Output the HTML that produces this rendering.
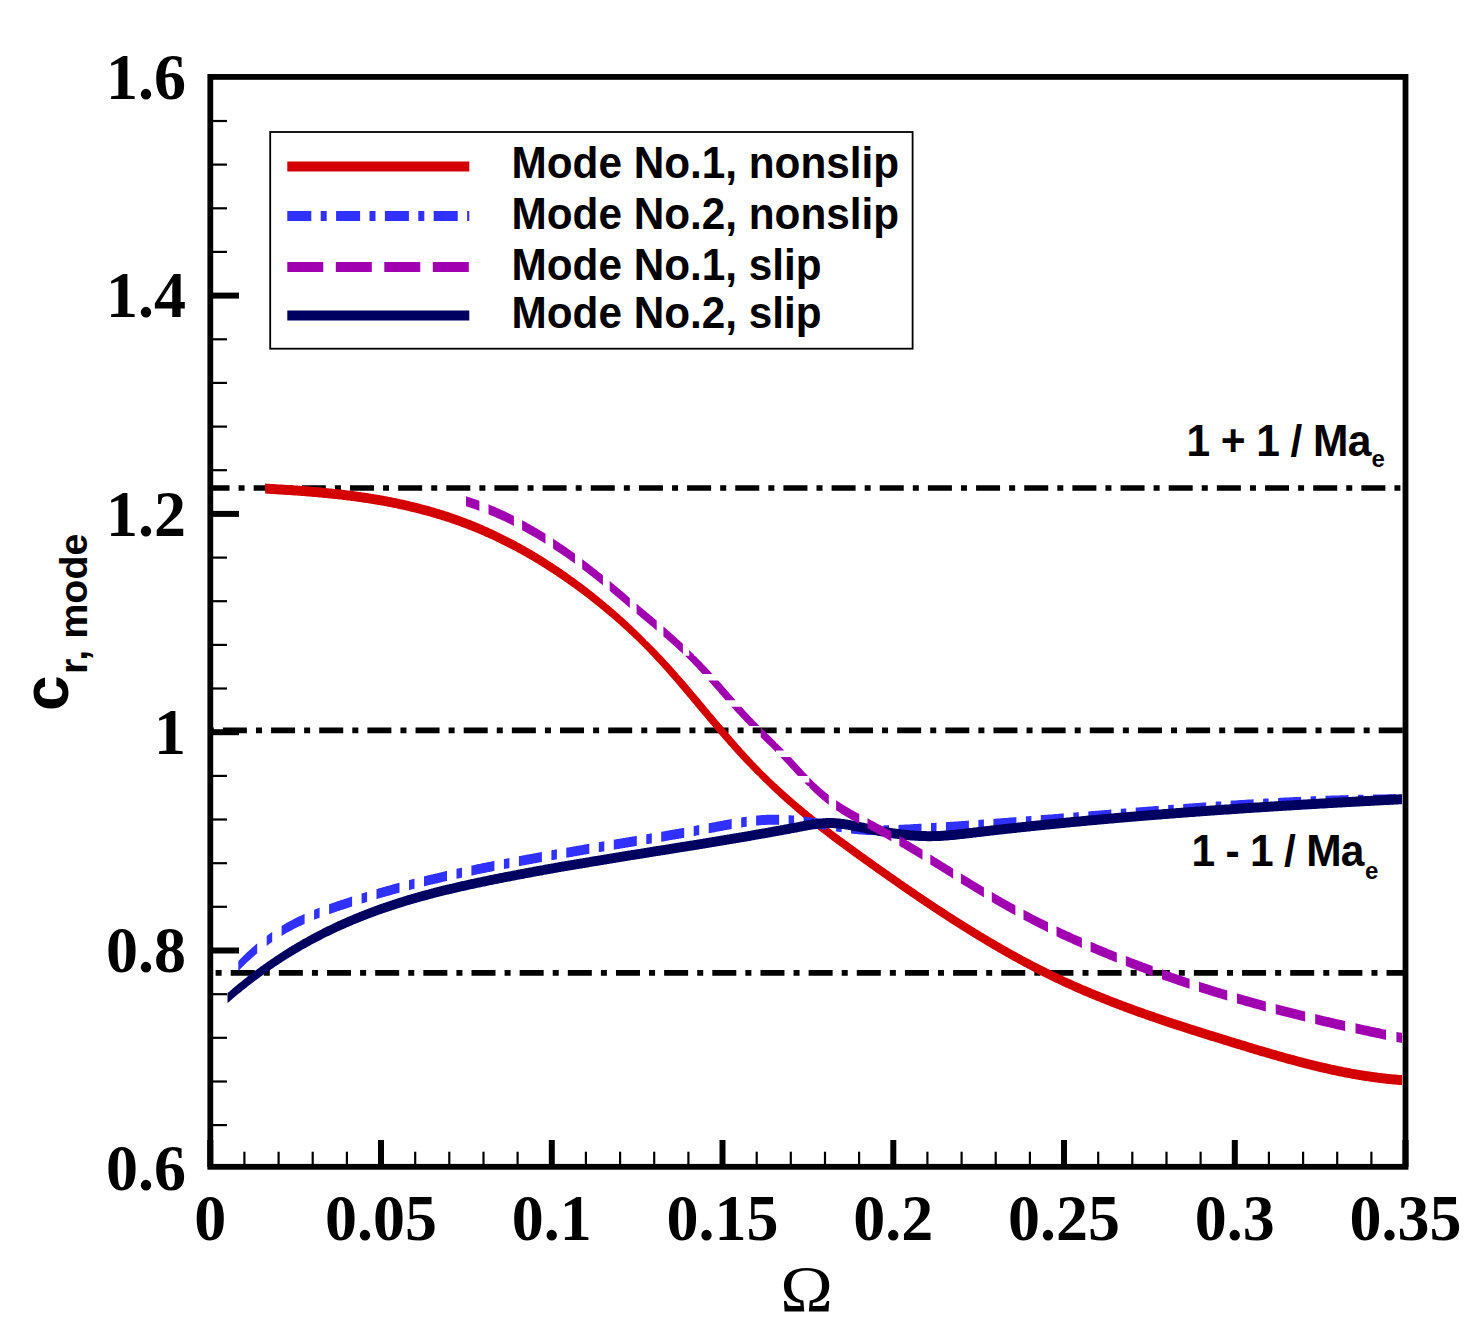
<!DOCTYPE html>
<html><head><meta charset="utf-8"><style>
html,body{margin:0;padding:0;background:#fff;width:1484px;height:1339px;overflow:hidden}
svg{display:block;position:absolute;left:0;top:0}
</style></head><body>
<svg width="1484" height="1339" viewBox="0 0 1484 1339">
<rect width="1484" height="1339" fill="#fff"/>
<defs><clipPath id="pc"><rect x="210.3" y="77.2" width="1195.2" height="1089.8"/></clipPath></defs>
<g clip-path="url(#pc)" fill="none" stroke-linecap="butt" stroke-linejoin="round">
<line x1="-83.46" y1="488.0" x2="1465.5" y2="488.0" stroke="#000" stroke-width="5.7" stroke-dasharray="24 9.08 6 9.08"/>
<line x1="-66.06" y1="730.3" x2="1465.5" y2="730.3" stroke="#000" stroke-width="5.7" stroke-dasharray="24 9.08 6 9.08"/>
<line x1="-58.26" y1="972.8" x2="1465.5" y2="972.8" stroke="#000" stroke-width="5.7" stroke-dasharray="24 9.08 6 9.08"/>
<path d="M265.1,483.6 266.1,483.6 267.1,483.7 268.1,483.8 269.1,483.8 270.1,483.9 271.1,483.9 272.1,484.0 273.1,484.1 274.1,484.1 275.1,484.2 276.1,484.2 277.1,484.3 278.1,484.4 279.1,484.4 280.1,484.5 281.1,484.5 282.1,484.6 283.1,484.7 284.1,484.7 285.1,484.8 286.1,484.9 287.1,484.9 288.1,485.0 289.1,485.1 290.1,485.1 291.1,485.2 292.1,485.3 293.1,485.3 294.1,485.4 295.1,485.5 296.1,485.6 297.1,485.6 298.1,485.7 299.1,485.8 300.1,485.8 301.1,485.9 302.1,486.0 303.1,486.1 304.1,486.1 305.1,486.2 306.1,486.3 307.1,486.4 308.1,486.5 309.1,486.5 310.1,486.6 311.1,486.7 312.1,486.8 313.1,486.9 314.1,487.0 315.1,487.0 316.1,487.1 317.1,487.2 318.1,487.3 319.1,487.4 320.1,487.5 321.1,487.6 322.1,487.7 323.1,487.8 324.1,487.9 325.1,488.0 326.1,488.1 327.1,488.2 328.1,488.3 329.2,488.4 330.2,488.5 331.2,488.6 332.2,488.7 333.2,488.8 334.2,488.9 335.2,489.0 336.2,489.1 337.2,489.2 338.2,489.3 339.2,489.4 340.2,489.5 341.2,489.6 342.2,489.8 343.2,489.9 344.2,490.0 345.2,490.1 346.2,490.2 347.2,490.4 348.2,490.5 349.2,490.6 350.2,490.7 351.2,490.9 352.2,491.0 353.2,491.1 354.2,491.3 355.2,491.4 356.2,491.5 357.2,491.7 358.2,491.8 359.2,491.9 360.2,492.1 361.2,492.2 362.2,492.4 363.2,492.5 364.2,492.7 365.2,492.8 366.2,493.0 367.2,493.1 368.2,493.3 369.2,493.4 370.2,493.6 371.2,493.7 372.2,493.9 373.2,494.1 374.2,494.2 375.2,494.4 376.2,494.6 377.2,494.7 378.2,494.9 379.2,495.1 380.2,495.3 381.2,495.4 382.2,495.6 383.2,495.8 384.2,496.0 385.2,496.2 386.2,496.3 387.2,496.5 388.2,496.7 389.2,496.9 390.2,497.1 391.2,497.3 392.2,497.5 393.2,497.7 394.2,497.9 395.2,498.1 396.2,498.3 397.2,498.5 398.2,498.7 399.2,498.9 400.2,499.2 401.2,499.4 402.2,499.6 403.2,499.8 404.2,500.0 405.2,500.3 406.2,500.5 407.2,500.7 408.2,500.9 409.2,501.2 410.2,501.4 411.2,501.7 412.2,501.9 413.2,502.1 414.2,502.4 415.2,502.6 416.2,502.9 417.2,503.1 418.2,503.4 419.2,503.6 420.2,503.9 421.2,504.2 422.2,504.4 423.2,504.7 424.2,505.0 425.2,505.2 426.2,505.5 427.2,505.8 428.2,506.1 429.2,506.3 430.2,506.6 431.2,506.9 432.2,507.2 433.2,507.5 434.2,507.8 435.2,508.1 436.2,508.4 437.2,508.7 438.2,509.0 439.2,509.3 440.2,509.6 441.2,509.9 442.2,510.2 443.2,510.5 444.2,510.8 445.2,511.2 446.2,511.5 447.2,511.8 448.2,512.1 449.2,512.5 450.2,512.8 451.2,513.2 452.2,513.5 453.2,513.8 454.2,514.2 455.3,514.5 456.3,514.9 457.3,515.2 458.3,515.6 459.3,516.0 460.3,516.3 461.3,516.7 462.3,517.1 463.3,517.4 464.3,517.8 465.3,518.2 466.3,518.6 467.3,519.0 468.3,519.4 469.3,519.7 470.3,520.1 471.3,520.5 472.3,520.9 473.3,521.3 474.3,521.7 475.3,522.2 476.3,522.6 477.3,523.0 478.3,523.4 479.3,523.8 480.3,524.2 481.3,524.7 482.3,525.1 483.3,525.5 484.3,526.0 485.3,526.4 486.3,526.9 487.3,527.3 488.3,527.8 489.3,528.2 490.3,528.7 491.3,529.1 492.3,529.6 493.3,530.0 494.3,530.5 495.3,531.0 496.3,531.5 497.3,531.9 498.3,532.4 499.3,532.9 500.3,533.4 501.3,533.9 502.3,534.4 503.3,534.9 504.3,535.4 505.3,535.9 506.3,536.4 507.3,536.9 508.3,537.4 509.3,537.9 510.3,538.4 511.3,539.0 512.3,539.5 513.3,540.0 514.3,540.5 515.3,541.1 516.3,541.6 517.3,542.2 518.3,542.7 519.3,543.2 520.3,543.8 521.3,544.3 522.3,544.9 523.3,545.5 524.3,546.0 525.3,546.6 526.3,547.2 527.3,547.7 528.3,548.3 529.3,548.9 530.3,549.5 531.3,550.1 532.3,550.6 533.3,551.2 534.3,551.8 535.3,552.4 536.3,553.0 537.3,553.6 538.3,554.3 539.3,554.9 540.3,555.5 541.3,556.1 542.3,556.7 543.3,557.3 544.3,558.0 545.3,558.6 546.3,559.2 547.3,559.9 548.3,560.5 549.3,561.2 550.3,561.8 551.3,562.5 552.3,563.1 553.3,563.8 554.3,564.4 555.3,565.1 556.3,565.8 557.3,566.4 558.3,567.1 559.3,567.8 560.3,568.5 561.3,569.1 562.3,569.8 563.3,570.5 564.3,571.2 565.3,571.9 566.3,572.6 567.3,573.3 568.3,574.0 569.3,574.7 570.3,575.4 571.3,576.2 572.3,576.9 573.3,577.6 574.3,578.3 575.3,579.1 576.3,579.8 577.3,580.5 578.3,581.3 579.3,582.0 580.3,582.8 581.4,583.5 582.4,584.3 583.4,585.0 584.4,585.8 585.4,586.5 586.4,587.3 587.4,588.1 588.4,588.9 589.4,589.6 590.4,590.4 591.4,591.2 592.4,592.0 593.4,592.8 594.4,593.6 595.4,594.4 596.4,595.2 597.4,596.0 598.4,596.8 599.4,597.6 600.4,598.4 601.4,599.2 602.4,600.0 603.4,600.9 604.4,601.7 605.4,602.5 606.4,603.4 607.4,604.2 608.4,605.1 609.4,605.9 610.4,606.8 611.4,607.6 612.4,608.5 613.4,609.3 614.4,610.2 615.4,611.1 616.4,611.9 617.4,612.8 618.4,613.7 619.4,614.6 620.4,615.5 621.4,616.4 622.4,617.3 623.4,618.2 624.4,619.1 625.4,620.0 626.4,620.9 627.4,621.8 628.4,622.8 629.4,623.7 630.4,624.6 631.4,625.6 632.4,626.5 633.4,627.4 634.4,628.4 635.4,629.3 636.4,630.3 637.4,631.3 638.4,632.2 639.4,633.2 640.4,634.2 641.4,635.2 642.4,636.2 643.4,637.2 644.4,638.2 645.4,639.2 646.4,640.2 646.4,650.2 645.4,649.2 644.4,648.2 643.4,647.2 642.4,646.2 641.4,645.2 640.4,644.2 639.4,643.2 638.4,642.2 637.4,641.3 636.4,640.3 635.4,639.3 634.4,638.4 633.4,637.4 632.4,636.5 631.4,635.6 630.4,634.6 629.4,633.7 628.4,632.8 627.4,631.8 626.4,630.9 625.4,630.0 624.4,629.1 623.4,628.2 622.4,627.3 621.4,626.4 620.4,625.5 619.4,624.6 618.4,623.7 617.4,622.8 616.4,621.9 615.4,621.1 614.4,620.2 613.4,619.3 612.4,618.5 611.4,617.6 610.4,616.8 609.4,615.9 608.4,615.1 607.4,614.2 606.4,613.4 605.4,612.5 604.4,611.7 603.4,610.9 602.4,610.0 601.4,609.2 600.4,608.4 599.4,607.6 598.4,606.8 597.4,606.0 596.4,605.2 595.4,604.4 594.4,603.6 593.4,602.8 592.4,602.0 591.4,601.2 590.4,600.4 589.4,599.6 588.4,598.9 587.4,598.1 586.4,597.3 585.4,596.5 584.4,595.8 583.4,595.0 582.4,594.3 581.4,593.5 580.3,592.8 579.3,592.0 578.3,591.3 577.3,590.5 576.3,589.8 575.3,589.1 574.3,588.3 573.3,587.6 572.3,586.9 571.3,586.2 570.3,585.4 569.3,584.7 568.3,584.0 567.3,583.3 566.3,582.6 565.3,581.9 564.3,581.2 563.3,580.5 562.3,579.8 561.3,579.1 560.3,578.5 559.3,577.8 558.3,577.1 557.3,576.4 556.3,575.8 555.3,575.1 554.3,574.4 553.3,573.8 552.3,573.1 551.3,572.5 550.3,571.8 549.3,571.2 548.3,570.5 547.3,569.9 546.3,569.2 545.3,568.6 544.3,568.0 543.3,567.3 542.3,566.7 541.3,566.1 540.3,565.5 539.3,564.9 538.3,564.3 537.3,563.6 536.3,563.0 535.3,562.4 534.3,561.8 533.3,561.2 532.3,560.6 531.3,560.1 530.3,559.5 529.3,558.9 528.3,558.3 527.3,557.7 526.3,557.2 525.3,556.6 524.3,556.0 523.3,555.5 522.3,554.9 521.3,554.3 520.3,553.8 519.3,553.2 518.3,552.7 517.3,552.2 516.3,551.6 515.3,551.1 514.3,550.5 513.3,550.0 512.3,549.5 511.3,549.0 510.3,548.4 509.3,547.9 508.3,547.4 507.3,546.9 506.3,546.4 505.3,545.9 504.3,545.4 503.3,544.9 502.3,544.4 501.3,543.9 500.3,543.4 499.3,542.9 498.3,542.4 497.3,541.9 496.3,541.5 495.3,541.0 494.3,540.5 493.3,540.0 492.3,539.6 491.3,539.1 490.3,538.7 489.3,538.2 488.3,537.8 487.3,537.3 486.3,536.9 485.3,536.4 484.3,536.0 483.3,535.5 482.3,535.1 481.3,534.7 480.3,534.2 479.3,533.8 478.3,533.4 477.3,533.0 476.3,532.6 475.3,532.2 474.3,531.7 473.3,531.3 472.3,530.9 471.3,530.5 470.3,530.1 469.3,529.7 468.3,529.4 467.3,529.0 466.3,528.6 465.3,528.2 464.3,527.8 463.3,527.4 462.3,527.1 461.3,526.7 460.3,526.3 459.3,526.0 458.3,525.6 457.3,525.2 456.3,524.9 455.3,524.5 454.2,524.2 453.2,523.8 452.2,523.5 451.2,523.2 450.2,522.8 449.2,522.5 448.2,522.1 447.2,521.8 446.2,521.5 445.2,521.2 444.2,520.8 443.2,520.5 442.2,520.2 441.2,519.9 440.2,519.6 439.2,519.3 438.2,519.0 437.2,518.7 436.2,518.4 435.2,518.1 434.2,517.8 433.2,517.5 432.2,517.2 431.2,516.9 430.2,516.6 429.2,516.3 428.2,516.1 427.2,515.8 426.2,515.5 425.2,515.2 424.2,515.0 423.2,514.7 422.2,514.4 421.2,514.2 420.2,513.9 419.2,513.6 418.2,513.4 417.2,513.1 416.2,512.9 415.2,512.6 414.2,512.4 413.2,512.1 412.2,511.9 411.2,511.7 410.2,511.4 409.2,511.2 408.2,510.9 407.2,510.7 406.2,510.5 405.2,510.3 404.2,510.0 403.2,509.8 402.2,509.6 401.2,509.4 400.2,509.2 399.2,508.9 398.2,508.7 397.2,508.5 396.2,508.3 395.2,508.1 394.2,507.9 393.2,507.7 392.2,507.5 391.2,507.3 390.2,507.1 389.2,506.9 388.2,506.7 387.2,506.5 386.2,506.3 385.2,506.2 384.2,506.0 383.2,505.8 382.2,505.6 381.2,505.4 380.2,505.3 379.2,505.1 378.2,504.9 377.2,504.7 376.2,504.6 375.2,504.4 374.2,504.2 373.2,504.1 372.2,503.9 371.2,503.7 370.2,503.6 369.2,503.4 368.2,503.3 367.2,503.1 366.2,503.0 365.2,502.8 364.2,502.7 363.2,502.5 362.2,502.4 361.2,502.2 360.2,502.1 359.2,501.9 358.2,501.8 357.2,501.7 356.2,501.5 355.2,501.4 354.2,501.3 353.2,501.1 352.2,501.0 351.2,500.9 350.2,500.7 349.2,500.6 348.2,500.5 347.2,500.4 346.2,500.2 345.2,500.1 344.2,500.0 343.2,499.9 342.2,499.8 341.2,499.6 340.2,499.5 339.2,499.4 338.2,499.3 337.2,499.2 336.2,499.1 335.2,499.0 334.2,498.9 333.2,498.8 332.2,498.7 331.2,498.6 330.2,498.5 329.2,498.4 328.1,498.3 327.1,498.2 326.1,498.1 325.1,498.0 324.1,497.9 323.1,497.8 322.1,497.7 321.1,497.6 320.1,497.5 319.1,497.4 318.1,497.3 317.1,497.2 316.1,497.1 315.1,497.0 314.1,497.0 313.1,496.9 312.1,496.8 311.1,496.7 310.1,496.6 309.1,496.5 308.1,496.5 307.1,496.4 306.1,496.3 305.1,496.2 304.1,496.1 303.1,496.1 302.1,496.0 301.1,495.9 300.1,495.8 299.1,495.8 298.1,495.7 297.1,495.6 296.1,495.6 295.1,495.5 294.1,495.4 293.1,495.3 292.1,495.3 291.1,495.2 290.1,495.1 289.1,495.1 288.1,495.0 287.1,494.9 286.1,494.9 285.1,494.8 284.1,494.7 283.1,494.7 282.1,494.6 281.1,494.5 280.1,494.5 279.1,494.4 278.1,494.4 277.1,494.3 276.1,494.2 275.1,494.2 274.1,494.1 273.1,494.1 272.1,494.0 271.1,493.9 270.1,493.9 269.1,493.8 268.1,493.8 267.1,493.7 266.1,493.6 265.1,493.6ZM647.4,641.2 648.4,642.2 649.4,643.2 650.4,644.2 651.4,645.2 652.4,646.2 653.4,647.2 654.4,648.2 655.4,649.2 656.4,650.3 657.4,651.3 658.4,652.3 659.4,653.4 660.4,654.4 661.4,655.5 662.4,656.6 663.4,657.6 664.4,658.7 665.4,659.8 666.4,660.9 667.4,661.9 668.4,663.0 669.4,664.1 670.4,665.2 671.4,666.3 672.4,667.5 673.4,668.6 674.4,669.7 675.4,670.8 676.4,671.9 677.4,673.1 678.4,674.2 679.4,675.4 680.4,676.5 681.4,677.7 682.4,678.8 683.4,680.0 684.4,681.1 685.4,682.3 686.4,683.5 687.4,684.6 688.4,685.8 689.4,687.0 690.4,688.2 691.4,689.3 692.4,690.5 693.4,691.7 694.4,692.9 695.4,694.1 696.4,695.3 697.4,696.4 698.4,697.6 699.4,698.8 700.4,700.0 701.4,701.2 702.4,702.4 703.4,703.6 704.4,704.8 705.4,706.0 706.4,707.2 707.4,708.4 708.4,709.6 709.4,710.8 710.4,712.0 711.4,713.2 712.5,714.4 713.5,715.6 714.5,716.8 715.5,718.0 716.5,719.2 717.5,720.4 718.5,721.5 719.5,722.7 720.5,723.9 721.5,725.1 722.5,726.3 723.5,727.5 724.5,728.7 725.5,729.8 726.5,731.0 727.5,732.2 728.5,733.4 729.5,734.5 730.5,735.7 731.5,736.8 732.5,738.0 733.5,739.2 734.5,740.3 735.5,741.5 736.5,742.6 737.5,743.7 738.5,744.9 739.5,746.0 740.5,747.1 741.5,748.3 742.5,749.4 743.5,750.5 744.5,751.6 745.5,752.7 746.5,753.8 747.5,754.9 748.5,756.0 749.5,757.1 750.5,758.2 751.5,759.2 752.5,760.3 753.5,761.4 754.5,762.4 755.5,763.5 756.5,764.5 757.5,765.6 758.5,766.6 759.5,767.6 760.5,768.7 761.5,769.7 762.5,770.7 763.5,771.7 764.5,772.7 765.5,773.7 766.5,774.7 767.5,775.7 757.5,775.7 756.5,774.7 755.5,773.7 754.5,772.7 753.5,771.7 752.5,770.7 751.5,769.7 750.5,768.7 749.5,767.6 748.5,766.6 747.5,765.6 746.5,764.5 745.5,763.5 744.5,762.4 743.5,761.4 742.5,760.3 741.5,759.2 740.5,758.2 739.5,757.1 738.5,756.0 737.5,754.9 736.5,753.8 735.5,752.7 734.5,751.6 733.5,750.5 732.5,749.4 731.5,748.3 730.5,747.1 729.5,746.0 728.5,744.9 727.5,743.7 726.5,742.6 725.5,741.5 724.5,740.3 723.5,739.2 722.5,738.0 721.5,736.8 720.5,735.7 719.5,734.5 718.5,733.4 717.5,732.2 716.5,731.0 715.5,729.8 714.5,728.7 713.5,727.5 712.5,726.3 711.5,725.1 710.5,723.9 709.5,722.7 708.5,721.5 707.5,720.4 706.5,719.2 705.5,718.0 704.5,716.8 703.5,715.6 702.5,714.4 701.4,713.2 700.4,712.0 699.4,710.8 698.4,709.6 697.4,708.4 696.4,707.2 695.4,706.0 694.4,704.8 693.4,703.6 692.4,702.4 691.4,701.2 690.4,700.0 689.4,698.8 688.4,697.6 687.4,696.4 686.4,695.3 685.4,694.1 684.4,692.9 683.4,691.7 682.4,690.5 681.4,689.3 680.4,688.2 679.4,687.0 678.4,685.8 677.4,684.6 676.4,683.5 675.4,682.3 674.4,681.1 673.4,680.0 672.4,678.8 671.4,677.7 670.4,676.5 669.4,675.4 668.4,674.2 667.4,673.1 666.4,671.9 665.4,670.8 664.4,669.7 663.4,668.6 662.4,667.5 661.4,666.3 660.4,665.2 659.4,664.1 658.4,663.0 657.4,661.9 656.4,660.9 655.4,659.8 654.4,658.7 653.4,657.6 652.4,656.6 651.4,655.5 650.4,654.4 649.4,653.4 648.4,652.3 647.4,651.3 646.4,650.3 645.4,649.2 644.4,648.2 643.4,647.2 642.4,646.2 641.4,645.2 640.4,644.2 639.4,643.2 638.4,642.2 637.4,641.2ZM758.5,766.7 759.5,767.7 760.5,768.7 761.5,769.7 762.5,770.7 763.5,771.7 764.5,772.7 765.5,773.6 766.5,774.6 767.5,775.6 768.5,776.6 769.5,777.5 770.5,778.5 771.5,779.4 772.5,780.4 773.5,781.3 774.5,782.2 775.5,783.2 776.5,784.1 777.5,785.0 778.5,786.0 779.5,786.9 780.5,787.8 781.5,788.7 782.5,789.6 783.5,790.5 784.5,791.4 785.5,792.3 786.5,793.2 787.5,794.1 788.5,794.9 789.5,795.8 790.5,796.7 791.5,797.6 792.5,798.4 793.5,799.3 794.5,800.2 795.5,801.0 796.5,801.9 797.5,802.7 798.5,803.6 799.5,804.4 800.5,805.3 801.5,806.1 802.5,806.9 803.5,807.8 804.5,808.6 805.5,809.4 806.5,810.2 807.5,811.0 808.5,811.9 809.5,812.7 810.5,813.5 811.5,814.3 812.5,815.1 813.5,815.9 814.5,816.7 815.5,817.5 816.5,818.3 817.5,819.1 818.5,819.9 819.5,820.7 820.5,821.4 821.5,822.2 822.5,823.0 823.5,823.8 824.5,824.5 825.5,825.3 826.5,826.1 827.5,826.9 828.5,827.6 829.5,828.4 830.5,829.1 831.5,829.9 832.5,830.7 833.6,831.4 834.6,832.2 835.6,832.9 836.6,833.7 837.6,834.4 838.6,835.2 839.6,835.9 840.6,836.7 841.6,837.4 842.6,838.1 843.6,838.9 844.6,839.6 845.6,840.4 846.6,841.1 847.6,841.8 848.6,842.6 849.6,843.3 850.6,844.0 851.6,844.7 852.6,845.5 853.6,846.2 854.6,846.9 855.6,847.6 856.6,848.4 857.6,849.1 858.6,849.8 859.6,850.5 860.6,851.2 861.6,852.0 862.6,852.7 863.6,853.4 864.6,854.1 865.6,854.8 866.6,855.5 867.6,856.3 868.6,857.0 869.6,857.7 870.6,858.4 871.6,859.1 872.6,859.8 873.6,860.5 874.6,861.2 875.6,862.0 876.6,862.7 877.6,863.4 878.6,864.1 879.6,864.8 880.6,865.5 881.6,866.2 882.6,866.9 883.6,867.6 884.6,868.3 885.6,869.0 886.6,869.7 887.6,870.4 888.6,871.1 889.6,871.8 890.6,872.5 891.6,873.2 892.6,873.9 893.6,874.6 894.6,875.3 895.6,876.0 896.6,876.7 897.6,877.4 898.6,878.1 899.6,878.8 900.6,879.5 901.6,880.2 902.6,880.9 903.6,881.6 904.6,882.3 905.6,883.0 906.6,883.7 907.6,884.3 908.6,885.0 909.6,885.7 910.6,886.4 911.6,887.1 912.6,887.8 913.6,888.5 914.6,889.1 915.6,889.8 916.6,890.5 917.6,891.2 918.6,891.9 919.6,892.5 920.6,893.2 921.6,893.9 922.6,894.6 923.6,895.2 924.6,895.9 925.6,896.6 926.6,897.2 927.6,897.9 928.6,898.6 929.6,899.3 930.6,899.9 931.6,900.6 932.6,901.3 933.6,901.9 934.6,902.6 935.6,903.2 936.6,903.9 937.6,904.6 938.6,905.2 939.6,905.9 940.6,906.5 941.6,907.2 942.6,907.8 943.6,908.5 944.6,909.1 945.6,909.8 946.6,910.4 947.6,911.1 948.6,911.7 949.6,912.4 950.6,913.0 951.6,913.7 952.6,914.3 953.6,915.0 954.6,915.6 955.6,916.2 956.6,916.9 957.6,917.5 958.6,918.1 959.6,918.8 960.7,919.4 961.7,920.0 962.7,920.7 963.7,921.3 964.7,921.9 965.7,922.6 966.7,923.2 967.7,923.8 968.7,924.4 969.7,925.1 970.7,925.7 971.7,926.3 972.7,926.9 973.7,927.5 974.7,928.1 975.7,928.8 976.7,929.4 977.7,930.0 978.7,930.6 979.7,931.2 980.7,931.8 981.7,932.4 982.7,933.0 983.7,933.6 984.7,934.2 985.7,934.8 986.7,935.4 987.7,936.0 988.7,936.6 989.7,937.2 990.7,937.8 991.7,938.4 992.7,939.0 993.7,939.6 994.7,940.1 995.7,940.7 996.7,941.3 997.7,941.9 998.7,942.5 999.7,943.0 1000.7,943.6 1001.7,944.2 1002.7,944.8 1003.7,945.3 1004.7,945.9 1005.7,946.5 1006.7,947.0 1007.7,947.6 1008.7,948.2 1009.7,948.7 1010.7,949.3 1011.7,949.9 1012.7,950.4 1013.7,951.0 1014.7,951.5 1015.7,952.1 1016.7,952.6 1017.7,953.2 1018.7,953.7 1019.7,954.3 1020.7,954.8 1021.7,955.3 1022.7,955.9 1023.7,956.4 1024.7,957.0 1025.7,957.5 1026.7,958.0 1027.7,958.6 1028.7,959.1 1029.7,959.6 1030.7,960.1 1031.7,960.7 1032.7,961.2 1033.7,961.7 1034.7,962.2 1035.7,962.7 1036.7,963.3 1037.7,963.8 1038.7,964.3 1039.7,964.8 1040.7,965.3 1041.7,965.8 1042.7,966.3 1043.7,966.8 1044.7,967.3 1045.7,967.8 1046.7,968.3 1047.7,968.8 1048.7,969.3 1049.7,969.8 1050.7,970.3 1051.7,970.7 1052.7,971.2 1053.7,971.7 1054.7,972.2 1055.7,972.7 1056.7,973.1 1057.7,973.6 1058.7,974.1 1059.7,974.6 1060.7,975.0 1061.7,975.5 1062.7,976.0 1063.7,976.4 1064.7,976.9 1065.7,977.4 1066.7,977.8 1067.7,978.3 1068.7,978.7 1069.7,979.2 1070.7,979.6 1071.7,980.1 1072.7,980.5 1073.7,981.0 1074.7,981.4 1075.7,981.9 1076.7,982.3 1077.7,982.7 1078.7,983.2 1079.7,983.6 1080.7,984.1 1081.7,984.5 1082.7,984.9 1083.7,985.4 1084.7,985.8 1085.7,986.2 1086.8,986.6 1087.8,987.1 1088.8,987.5 1089.8,987.9 1090.8,988.3 1091.8,988.7 1092.8,989.2 1093.8,989.6 1094.8,990.0 1095.8,990.4 1096.8,990.8 1097.8,991.2 1098.8,991.6 1099.8,992.0 1100.8,992.4 1101.8,992.8 1102.8,993.2 1103.8,993.6 1104.8,994.0 1105.8,994.4 1106.8,994.8 1107.8,995.2 1108.8,995.6 1109.8,996.0 1110.8,996.4 1111.8,996.8 1112.8,997.2 1113.8,997.6 1114.8,998.0 1115.8,998.3 1116.8,998.7 1117.8,999.1 1118.8,999.5 1119.8,999.9 1120.8,1000.2 1121.8,1000.6 1122.8,1001.0 1123.8,1001.4 1124.8,1001.8 1125.8,1002.1 1126.8,1002.5 1127.8,1002.9 1128.8,1003.2 1129.8,1003.6 1130.8,1004.0 1131.8,1004.3 1132.8,1004.7 1133.8,1005.1 1134.8,1005.4 1135.8,1005.8 1136.8,1006.2 1137.8,1006.5 1138.8,1006.9 1139.8,1007.2 1140.8,1007.6 1141.8,1007.9 1142.8,1008.3 1143.8,1008.6 1144.8,1009.0 1145.8,1009.4 1146.8,1009.7 1147.8,1010.1 1148.8,1010.4 1149.8,1010.8 1150.8,1011.1 1151.8,1011.4 1152.8,1011.8 1153.8,1012.1 1154.8,1012.5 1155.8,1012.8 1156.8,1013.2 1157.8,1013.5 1158.8,1013.8 1159.8,1014.2 1160.8,1014.5 1161.8,1014.9 1162.8,1015.2 1163.8,1015.5 1164.8,1015.9 1165.8,1016.2 1166.8,1016.5 1167.8,1016.9 1168.8,1017.2 1169.8,1017.5 1170.8,1017.9 1171.8,1018.2 1172.8,1018.5 1173.8,1018.9 1174.8,1019.2 1175.8,1019.5 1176.8,1019.8 1177.8,1020.2 1178.8,1020.5 1179.8,1020.8 1180.8,1021.1 1181.8,1021.5 1182.8,1021.8 1183.8,1022.1 1184.8,1022.4 1185.8,1022.8 1186.8,1023.1 1187.8,1023.4 1188.8,1023.7 1189.8,1024.0 1190.8,1024.4 1191.8,1024.7 1192.8,1025.0 1193.8,1025.3 1194.8,1025.6 1195.8,1026.0 1196.8,1026.3 1197.8,1026.6 1198.8,1026.9 1199.8,1027.2 1200.8,1027.5 1201.8,1027.8 1202.8,1028.2 1203.8,1028.5 1204.8,1028.8 1205.8,1029.1 1206.8,1029.4 1207.8,1029.7 1208.8,1030.0 1209.8,1030.4 1210.8,1030.7 1211.8,1031.0 1212.9,1031.3 1213.9,1031.6 1214.9,1031.9 1215.9,1032.2 1216.9,1032.5 1217.9,1032.8 1218.9,1033.1 1219.9,1033.5 1220.9,1033.8 1221.9,1034.1 1222.9,1034.4 1223.9,1034.7 1224.9,1035.0 1225.9,1035.3 1226.9,1035.6 1227.9,1035.9 1228.9,1036.2 1229.9,1036.5 1230.9,1036.9 1231.9,1037.2 1232.9,1037.5 1233.9,1037.8 1234.9,1038.1 1235.9,1038.4 1236.9,1038.7 1237.9,1039.0 1238.9,1039.3 1239.9,1039.6 1240.9,1039.9 1241.9,1040.2 1242.9,1040.5 1243.9,1040.8 1244.9,1041.1 1245.9,1041.4 1246.9,1041.7 1247.9,1042.1 1248.9,1042.4 1249.9,1042.7 1250.9,1043.0 1251.9,1043.3 1252.9,1043.6 1253.9,1043.9 1254.9,1044.2 1255.9,1044.5 1256.9,1044.8 1257.9,1045.1 1258.9,1045.4 1259.9,1045.7 1260.9,1046.0 1261.9,1046.3 1262.9,1046.5 1263.9,1046.8 1264.9,1047.1 1265.9,1047.4 1266.9,1047.7 1267.9,1048.0 1268.9,1048.3 1269.9,1048.6 1270.9,1048.9 1271.9,1049.2 1272.9,1049.5 1273.9,1049.8 1274.9,1050.0 1275.9,1050.3 1276.9,1050.6 1277.9,1050.9 1278.9,1051.2 1279.9,1051.5 1280.9,1051.8 1281.9,1052.0 1282.9,1052.3 1283.9,1052.6 1284.9,1052.9 1285.9,1053.2 1286.9,1053.4 1287.9,1053.7 1288.9,1054.0 1289.9,1054.3 1290.9,1054.5 1291.9,1054.8 1292.9,1055.1 1293.9,1055.3 1294.9,1055.6 1295.9,1055.9 1296.9,1056.1 1297.9,1056.4 1298.9,1056.7 1299.9,1056.9 1300.9,1057.2 1301.9,1057.5 1302.9,1057.7 1303.9,1058.0 1304.9,1058.2 1305.9,1058.5 1306.9,1058.7 1307.9,1059.0 1308.9,1059.3 1309.9,1059.5 1310.9,1059.8 1311.9,1060.0 1312.9,1060.2 1313.9,1060.5 1314.9,1060.7 1315.9,1061.0 1316.9,1061.2 1317.9,1061.5 1318.9,1061.7 1319.9,1061.9 1320.9,1062.2 1321.9,1062.4 1322.9,1062.6 1323.9,1062.9 1324.9,1063.1 1325.9,1063.3 1326.9,1063.6 1327.9,1063.8 1328.9,1064.0 1329.9,1064.2 1330.9,1064.4 1331.9,1064.7 1332.9,1064.9 1333.9,1065.1 1334.9,1065.3 1335.9,1065.5 1336.9,1065.7 1337.9,1065.9 1339.0,1066.2 1340.0,1066.4 1341.0,1066.6 1342.0,1066.8 1343.0,1067.0 1344.0,1067.2 1345.0,1067.4 1346.0,1067.6 1347.0,1067.7 1348.0,1067.9 1349.0,1068.1 1350.0,1068.3 1351.0,1068.5 1352.0,1068.7 1353.0,1068.9 1354.0,1069.0 1355.0,1069.2 1356.0,1069.4 1357.0,1069.6 1358.0,1069.7 1359.0,1069.9 1360.0,1070.1 1361.0,1070.2 1362.0,1070.4 1363.0,1070.6 1364.0,1070.7 1365.0,1070.9 1366.0,1071.0 1367.0,1071.2 1368.0,1071.3 1369.0,1071.5 1370.0,1071.6 1371.0,1071.8 1372.0,1071.9 1373.0,1072.1 1374.0,1072.2 1375.0,1072.3 1376.0,1072.5 1377.0,1072.6 1378.0,1072.7 1379.0,1072.9 1380.0,1073.0 1381.0,1073.1 1382.0,1073.2 1383.0,1073.3 1384.0,1073.5 1385.0,1073.6 1386.0,1073.7 1387.0,1073.8 1388.0,1073.9 1389.0,1074.0 1390.0,1074.1 1391.0,1074.2 1392.0,1074.3 1393.0,1074.4 1394.0,1074.5 1395.0,1074.6 1396.0,1074.6 1397.0,1074.7 1398.0,1074.8 1399.0,1074.9 1400.0,1075.0 1401.0,1075.0 1402.0,1075.1 1402.0,1085.1 1401.0,1085.0 1400.0,1085.0 1399.0,1084.9 1398.0,1084.8 1397.0,1084.7 1396.0,1084.6 1395.0,1084.6 1394.0,1084.5 1393.0,1084.4 1392.0,1084.3 1391.0,1084.2 1390.0,1084.1 1389.0,1084.0 1388.0,1083.9 1387.0,1083.8 1386.0,1083.7 1385.0,1083.6 1384.0,1083.5 1383.0,1083.3 1382.0,1083.2 1381.0,1083.1 1380.0,1083.0 1379.0,1082.9 1378.0,1082.7 1377.0,1082.6 1376.0,1082.5 1375.0,1082.3 1374.0,1082.2 1373.0,1082.1 1372.0,1081.9 1371.0,1081.8 1370.0,1081.6 1369.0,1081.5 1368.0,1081.3 1367.0,1081.2 1366.0,1081.0 1365.0,1080.9 1364.0,1080.7 1363.0,1080.6 1362.0,1080.4 1361.0,1080.2 1360.0,1080.1 1359.0,1079.9 1358.0,1079.7 1357.0,1079.6 1356.0,1079.4 1355.0,1079.2 1354.0,1079.0 1353.0,1078.9 1352.0,1078.7 1351.0,1078.5 1350.0,1078.3 1349.0,1078.1 1348.0,1077.9 1347.0,1077.7 1346.0,1077.6 1345.0,1077.4 1344.0,1077.2 1343.0,1077.0 1342.0,1076.8 1341.0,1076.6 1340.0,1076.4 1339.0,1076.2 1337.9,1075.9 1336.9,1075.7 1335.9,1075.5 1334.9,1075.3 1333.9,1075.1 1332.9,1074.9 1331.9,1074.7 1330.9,1074.4 1329.9,1074.2 1328.9,1074.0 1327.9,1073.8 1326.9,1073.6 1325.9,1073.3 1324.9,1073.1 1323.9,1072.9 1322.9,1072.6 1321.9,1072.4 1320.9,1072.2 1319.9,1071.9 1318.9,1071.7 1317.9,1071.5 1316.9,1071.2 1315.9,1071.0 1314.9,1070.7 1313.9,1070.5 1312.9,1070.2 1311.9,1070.0 1310.9,1069.8 1309.9,1069.5 1308.9,1069.3 1307.9,1069.0 1306.9,1068.7 1305.9,1068.5 1304.9,1068.2 1303.9,1068.0 1302.9,1067.7 1301.9,1067.5 1300.9,1067.2 1299.9,1066.9 1298.9,1066.7 1297.9,1066.4 1296.9,1066.1 1295.9,1065.9 1294.9,1065.6 1293.9,1065.3 1292.9,1065.1 1291.9,1064.8 1290.9,1064.5 1289.9,1064.3 1288.9,1064.0 1287.9,1063.7 1286.9,1063.4 1285.9,1063.2 1284.9,1062.9 1283.9,1062.6 1282.9,1062.3 1281.9,1062.0 1280.9,1061.8 1279.9,1061.5 1278.9,1061.2 1277.9,1060.9 1276.9,1060.6 1275.9,1060.3 1274.9,1060.0 1273.9,1059.8 1272.9,1059.5 1271.9,1059.2 1270.9,1058.9 1269.9,1058.6 1268.9,1058.3 1267.9,1058.0 1266.9,1057.7 1265.9,1057.4 1264.9,1057.1 1263.9,1056.8 1262.9,1056.5 1261.9,1056.3 1260.9,1056.0 1259.9,1055.7 1258.9,1055.4 1257.9,1055.1 1256.9,1054.8 1255.9,1054.5 1254.9,1054.2 1253.9,1053.9 1252.9,1053.6 1251.9,1053.3 1250.9,1053.0 1249.9,1052.7 1248.9,1052.4 1247.9,1052.1 1246.9,1051.7 1245.9,1051.4 1244.9,1051.1 1243.9,1050.8 1242.9,1050.5 1241.9,1050.2 1240.9,1049.9 1239.9,1049.6 1238.9,1049.3 1237.9,1049.0 1236.9,1048.7 1235.9,1048.4 1234.9,1048.1 1233.9,1047.8 1232.9,1047.5 1231.9,1047.2 1230.9,1046.9 1229.9,1046.5 1228.9,1046.2 1227.9,1045.9 1226.9,1045.6 1225.9,1045.3 1224.9,1045.0 1223.9,1044.7 1222.9,1044.4 1221.9,1044.1 1220.9,1043.8 1219.9,1043.5 1218.9,1043.1 1217.9,1042.8 1216.9,1042.5 1215.9,1042.2 1214.9,1041.9 1213.9,1041.6 1212.9,1041.3 1211.8,1041.0 1210.8,1040.7 1209.8,1040.4 1208.8,1040.0 1207.8,1039.7 1206.8,1039.4 1205.8,1039.1 1204.8,1038.8 1203.8,1038.5 1202.8,1038.2 1201.8,1037.8 1200.8,1037.5 1199.8,1037.2 1198.8,1036.9 1197.8,1036.6 1196.8,1036.3 1195.8,1036.0 1194.8,1035.6 1193.8,1035.3 1192.8,1035.0 1191.8,1034.7 1190.8,1034.4 1189.8,1034.0 1188.8,1033.7 1187.8,1033.4 1186.8,1033.1 1185.8,1032.8 1184.8,1032.4 1183.8,1032.1 1182.8,1031.8 1181.8,1031.5 1180.8,1031.1 1179.8,1030.8 1178.8,1030.5 1177.8,1030.2 1176.8,1029.8 1175.8,1029.5 1174.8,1029.2 1173.8,1028.9 1172.8,1028.5 1171.8,1028.2 1170.8,1027.9 1169.8,1027.5 1168.8,1027.2 1167.8,1026.9 1166.8,1026.5 1165.8,1026.2 1164.8,1025.9 1163.8,1025.5 1162.8,1025.2 1161.8,1024.9 1160.8,1024.5 1159.8,1024.2 1158.8,1023.8 1157.8,1023.5 1156.8,1023.2 1155.8,1022.8 1154.8,1022.5 1153.8,1022.1 1152.8,1021.8 1151.8,1021.4 1150.8,1021.1 1149.8,1020.8 1148.8,1020.4 1147.8,1020.1 1146.8,1019.7 1145.8,1019.4 1144.8,1019.0 1143.8,1018.6 1142.8,1018.3 1141.8,1017.9 1140.8,1017.6 1139.8,1017.2 1138.8,1016.9 1137.8,1016.5 1136.8,1016.2 1135.8,1015.8 1134.8,1015.4 1133.8,1015.1 1132.8,1014.7 1131.8,1014.3 1130.8,1014.0 1129.8,1013.6 1128.8,1013.2 1127.8,1012.9 1126.8,1012.5 1125.8,1012.1 1124.8,1011.8 1123.8,1011.4 1122.8,1011.0 1121.8,1010.6 1120.8,1010.2 1119.8,1009.9 1118.8,1009.5 1117.8,1009.1 1116.8,1008.7 1115.8,1008.3 1114.8,1008.0 1113.8,1007.6 1112.8,1007.2 1111.8,1006.8 1110.8,1006.4 1109.8,1006.0 1108.8,1005.6 1107.8,1005.2 1106.8,1004.8 1105.8,1004.4 1104.8,1004.0 1103.8,1003.6 1102.8,1003.2 1101.8,1002.8 1100.8,1002.4 1099.8,1002.0 1098.8,1001.6 1097.8,1001.2 1096.8,1000.8 1095.8,1000.4 1094.8,1000.0 1093.8,999.6 1092.8,999.2 1091.8,998.7 1090.8,998.3 1089.8,997.9 1088.8,997.5 1087.8,997.1 1086.8,996.6 1085.7,996.2 1084.7,995.8 1083.7,995.4 1082.7,994.9 1081.7,994.5 1080.7,994.1 1079.7,993.6 1078.7,993.2 1077.7,992.7 1076.7,992.3 1075.7,991.9 1074.7,991.4 1073.7,991.0 1072.7,990.5 1071.7,990.1 1070.7,989.6 1069.7,989.2 1068.7,988.7 1067.7,988.3 1066.7,987.8 1065.7,987.4 1064.7,986.9 1063.7,986.4 1062.7,986.0 1061.7,985.5 1060.7,985.0 1059.7,984.6 1058.7,984.1 1057.7,983.6 1056.7,983.1 1055.7,982.7 1054.7,982.2 1053.7,981.7 1052.7,981.2 1051.7,980.7 1050.7,980.3 1049.7,979.8 1048.7,979.3 1047.7,978.8 1046.7,978.3 1045.7,977.8 1044.7,977.3 1043.7,976.8 1042.7,976.3 1041.7,975.8 1040.7,975.3 1039.7,974.8 1038.7,974.3 1037.7,973.8 1036.7,973.3 1035.7,972.7 1034.7,972.2 1033.7,971.7 1032.7,971.2 1031.7,970.7 1030.7,970.1 1029.7,969.6 1028.7,969.1 1027.7,968.6 1026.7,968.0 1025.7,967.5 1024.7,967.0 1023.7,966.4 1022.7,965.9 1021.7,965.3 1020.7,964.8 1019.7,964.3 1018.7,963.7 1017.7,963.2 1016.7,962.6 1015.7,962.1 1014.7,961.5 1013.7,961.0 1012.7,960.4 1011.7,959.9 1010.7,959.3 1009.7,958.7 1008.7,958.2 1007.7,957.6 1006.7,957.0 1005.7,956.5 1004.7,955.9 1003.7,955.3 1002.7,954.8 1001.7,954.2 1000.7,953.6 999.7,953.0 998.7,952.5 997.7,951.9 996.7,951.3 995.7,950.7 994.7,950.1 993.7,949.6 992.7,949.0 991.7,948.4 990.7,947.8 989.7,947.2 988.7,946.6 987.7,946.0 986.7,945.4 985.7,944.8 984.7,944.2 983.7,943.6 982.7,943.0 981.7,942.4 980.7,941.8 979.7,941.2 978.7,940.6 977.7,940.0 976.7,939.4 975.7,938.8 974.7,938.1 973.7,937.5 972.7,936.9 971.7,936.3 970.7,935.7 969.7,935.1 968.7,934.4 967.7,933.8 966.7,933.2 965.7,932.6 964.7,931.9 963.7,931.3 962.7,930.7 961.7,930.0 960.7,929.4 959.6,928.8 958.6,928.1 957.6,927.5 956.6,926.9 955.6,926.2 954.6,925.6 953.6,925.0 952.6,924.3 951.6,923.7 950.6,923.0 949.6,922.4 948.6,921.7 947.6,921.1 946.6,920.4 945.6,919.8 944.6,919.1 943.6,918.5 942.6,917.8 941.6,917.2 940.6,916.5 939.6,915.9 938.6,915.2 937.6,914.6 936.6,913.9 935.6,913.2 934.6,912.6 933.6,911.9 932.6,911.3 931.6,910.6 930.6,909.9 929.6,909.3 928.6,908.6 927.6,907.9 926.6,907.2 925.6,906.6 924.6,905.9 923.6,905.2 922.6,904.6 921.6,903.9 920.6,903.2 919.6,902.5 918.6,901.9 917.6,901.2 916.6,900.5 915.6,899.8 914.6,899.1 913.6,898.5 912.6,897.8 911.6,897.1 910.6,896.4 909.6,895.7 908.6,895.0 907.6,894.3 906.6,893.7 905.6,893.0 904.6,892.3 903.6,891.6 902.6,890.9 901.6,890.2 900.6,889.5 899.6,888.8 898.6,888.1 897.6,887.4 896.6,886.7 895.6,886.0 894.6,885.3 893.6,884.6 892.6,883.9 891.6,883.2 890.6,882.5 889.6,881.8 888.6,881.1 887.6,880.4 886.6,879.7 885.6,879.0 884.6,878.3 883.6,877.6 882.6,876.9 881.6,876.2 880.6,875.5 879.6,874.8 878.6,874.1 877.6,873.4 876.6,872.7 875.6,872.0 874.6,871.2 873.6,870.5 872.6,869.8 871.6,869.1 870.6,868.4 869.6,867.7 868.6,867.0 867.6,866.3 866.6,865.5 865.6,864.8 864.6,864.1 863.6,863.4 862.6,862.7 861.6,862.0 860.6,861.2 859.6,860.5 858.6,859.8 857.6,859.1 856.6,858.4 855.6,857.6 854.6,856.9 853.6,856.2 852.6,855.5 851.6,854.7 850.6,854.0 849.6,853.3 848.6,852.6 847.6,851.8 846.6,851.1 845.6,850.4 844.6,849.6 843.6,848.9 842.6,848.1 841.6,847.4 840.6,846.7 839.6,845.9 838.6,845.2 837.6,844.4 836.6,843.7 835.6,842.9 834.6,842.2 833.6,841.4 832.5,840.7 831.5,839.9 830.5,839.1 829.5,838.4 828.5,837.6 827.5,836.9 826.5,836.1 825.5,835.3 824.5,834.5 823.5,833.8 822.5,833.0 821.5,832.2 820.5,831.4 819.5,830.7 818.5,829.9 817.5,829.1 816.5,828.3 815.5,827.5 814.5,826.7 813.5,825.9 812.5,825.1 811.5,824.3 810.5,823.5 809.5,822.7 808.5,821.9 807.5,821.0 806.5,820.2 805.5,819.4 804.5,818.6 803.5,817.8 802.5,816.9 801.5,816.1 800.5,815.3 799.5,814.4 798.5,813.6 797.5,812.7 796.5,811.9 795.5,811.0 794.5,810.2 793.5,809.3 792.5,808.4 791.5,807.6 790.5,806.7 789.5,805.8 788.5,804.9 787.5,804.1 786.5,803.2 785.5,802.3 784.5,801.4 783.5,800.5 782.5,799.6 781.5,798.7 780.5,797.8 779.5,796.9 778.5,796.0 777.5,795.0 776.5,794.1 775.5,793.2 774.5,792.2 773.5,791.3 772.5,790.4 771.5,789.4 770.5,788.5 769.5,787.5 768.5,786.6 767.5,785.6 766.5,784.6 765.5,783.6 764.5,782.7 763.5,781.7 762.5,780.7 761.5,779.7 760.5,778.7 759.5,777.7 758.5,776.7Z" fill="#d40000" stroke="none"/>
<path d="M238.3,961.2 239.3,960.1 240.3,959.1 241.3,958.0 242.3,957.0 243.3,956.0 244.3,955.0 245.3,954.1 246.3,953.1 247.3,952.1 248.3,951.2 249.3,950.3 250.3,949.4 251.3,948.4 252.3,947.5 253.3,946.7 254.3,945.8 255.3,944.9 256.3,944.1 257.2,943.4 257.2,953.4 256.3,954.1 255.3,954.9 254.3,955.8 253.3,956.7 252.3,957.5 251.3,958.4 250.3,959.4 249.3,960.3 248.3,961.2 247.3,962.1 246.3,963.1 245.3,964.1 244.3,965.0 243.3,966.0 242.3,967.0 241.3,968.0 240.3,969.1 239.3,970.1 238.3,971.2ZM266.7,935.9 267.3,935.4 268.3,934.7 269.3,934.0 270.3,933.3 271.3,932.6 272.2,932.0 272.2,942.0 271.3,942.6 270.3,943.3 269.3,944.0 268.3,944.7 267.3,945.4 266.7,945.9ZM281.6,925.9 282.3,925.5 283.3,924.9 284.3,924.3 285.3,923.7 286.3,923.1 287.3,922.6 288.3,922.0 289.3,921.5 290.3,920.9 291.3,920.4 292.3,919.9 293.3,919.3 294.3,918.8 295.3,918.3 296.3,917.8 297.3,917.3 298.3,916.8 299.3,916.3 300.3,915.9 301.3,915.4 302.3,914.9 303.3,914.5 304.3,914.0 304.6,913.9 304.6,923.9 304.3,924.0 303.3,924.5 302.3,924.9 301.3,925.4 300.3,925.9 299.3,926.3 298.3,926.8 297.3,927.3 296.3,927.8 295.3,928.3 294.3,928.8 293.3,929.3 292.3,929.9 291.3,930.4 290.3,930.9 289.3,931.5 288.3,932.0 287.3,932.6 286.3,933.1 285.3,933.7 284.3,934.3 283.3,934.9 282.3,935.5 281.6,935.9ZM314.1,909.8 314.3,909.7 315.3,909.3 316.3,908.9 317.3,908.5 318.3,908.2 319.3,907.8 319.6,907.7 319.6,917.7 319.3,917.8 318.3,918.2 317.3,918.5 316.3,918.9 315.3,919.3 314.3,919.7 314.1,919.8ZM329.1,904.2 329.4,904.1 330.4,903.7 331.4,903.4 332.4,903.0 333.4,902.7 334.4,902.4 335.4,902.0 336.4,901.7 337.4,901.3 338.4,901.0 339.4,900.7 340.4,900.3 341.4,900.0 342.4,899.7 343.4,899.4 344.4,899.0 345.4,898.7 346.4,898.4 347.4,898.0 348.4,897.7 349.4,897.4 350.4,897.1 351.4,896.8 352.1,896.5 352.1,906.5 351.4,906.8 350.4,907.1 349.4,907.4 348.4,907.7 347.4,908.0 346.4,908.4 345.4,908.7 344.4,909.0 343.4,909.4 342.4,909.7 341.4,910.0 340.4,910.3 339.4,910.7 338.4,911.0 337.4,911.3 336.4,911.7 335.4,912.0 334.4,912.4 333.4,912.7 332.4,913.0 331.4,913.4 330.4,913.7 329.4,914.1 329.1,914.2ZM361.6,893.6 362.4,893.3 363.4,893.0 364.4,892.7 365.4,892.4 366.4,892.1 367.1,891.9 367.1,901.9 366.4,902.1 365.4,902.4 364.4,902.7 363.4,903.0 362.4,903.3 361.6,903.6ZM376.5,889.1 377.4,888.9 378.4,888.6 379.4,888.3 380.4,888.0 381.4,887.7 382.4,887.4 383.4,887.1 384.4,886.9 385.4,886.6 386.4,886.3 387.4,886.0 388.4,885.7 389.4,885.4 390.4,885.2 391.4,884.9 392.4,884.6 393.4,884.3 394.4,884.1 395.4,883.8 396.4,883.5 397.4,883.3 398.4,883.0 399.4,882.7 399.5,882.7 399.5,892.7 399.4,892.7 398.4,893.0 397.4,893.3 396.4,893.5 395.4,893.8 394.4,894.1 393.4,894.3 392.4,894.6 391.4,894.9 390.4,895.2 389.4,895.4 388.4,895.7 387.4,896.0 386.4,896.3 385.4,896.6 384.4,896.9 383.4,897.1 382.4,897.4 381.4,897.7 380.4,898.0 379.4,898.3 378.4,898.6 377.4,898.9 376.5,899.1ZM409.0,880.2 409.4,880.1 410.4,879.8 411.4,879.6 412.4,879.3 413.4,879.1 414.4,878.8 414.5,878.8 414.5,888.8 414.4,888.8 413.4,889.1 412.4,889.3 411.4,889.6 410.4,889.8 409.4,890.1 409.0,890.2ZM424.0,876.4 424.4,876.3 425.4,876.1 426.4,875.8 427.4,875.6 428.4,875.3 429.4,875.1 430.4,874.8 431.4,874.6 432.4,874.4 433.4,874.1 434.4,873.9 435.4,873.6 436.4,873.4 437.4,873.2 438.4,872.9 439.4,872.7 440.4,872.5 441.4,872.2 442.4,872.0 443.4,871.8 444.4,871.5 445.4,871.3 446.4,871.1 447.0,871.0 447.0,881.0 446.4,881.1 445.4,881.3 444.4,881.5 443.4,881.8 442.4,882.0 441.4,882.2 440.4,882.5 439.4,882.7 438.4,882.9 437.4,883.2 436.4,883.4 435.4,883.6 434.4,883.9 433.4,884.1 432.4,884.4 431.4,884.6 430.4,884.8 429.4,885.1 428.4,885.3 427.4,885.6 426.4,885.8 425.4,886.1 424.4,886.3 424.0,886.4ZM456.5,868.8 457.4,868.6 458.4,868.4 459.4,868.2 460.4,868.0 461.4,867.7 462.0,867.6 462.0,877.6 461.4,877.7 460.4,878.0 459.4,878.2 458.4,878.4 457.4,878.6 456.5,878.8ZM471.4,865.6 471.4,865.6 472.4,865.4 473.4,865.2 474.4,865.0 475.4,864.8 476.4,864.5 477.4,864.3 478.4,864.1 479.4,863.9 480.4,863.7 481.4,863.5 482.4,863.3 483.4,863.1 484.4,862.9 485.4,862.7 486.4,862.5 487.4,862.3 488.5,862.1 489.5,861.9 490.5,861.7 491.5,861.5 492.5,861.3 493.5,861.1 494.4,860.9 494.4,870.9 493.5,871.1 492.5,871.3 491.5,871.5 490.5,871.7 489.5,871.9 488.5,872.1 487.4,872.3 486.4,872.5 485.4,872.7 484.4,872.9 483.4,873.1 482.4,873.3 481.4,873.5 480.4,873.7 479.4,873.9 478.4,874.1 477.4,874.3 476.4,874.5 475.4,874.8 474.4,875.0 473.4,875.2 472.4,875.4 471.4,875.6 471.4,875.6ZM503.9,859.0 504.5,858.9 505.5,858.7 506.5,858.5 507.5,858.4 508.5,858.2 509.4,858.0 509.4,868.0 508.5,868.2 507.5,868.4 506.5,868.5 505.5,868.7 504.5,868.9 503.9,869.0ZM518.9,856.2 519.5,856.1 520.5,855.9 521.5,855.7 522.5,855.5 523.5,855.3 524.5,855.2 525.5,855.0 526.5,854.8 527.5,854.6 528.5,854.4 529.5,854.2 530.5,854.1 531.5,853.9 532.5,853.7 533.5,853.5 534.5,853.3 535.5,853.2 536.5,853.0 537.5,852.8 538.5,852.6 539.5,852.4 540.5,852.3 541.5,852.1 541.9,852.0 541.9,862.0 541.5,862.1 540.5,862.3 539.5,862.4 538.5,862.6 537.5,862.8 536.5,863.0 535.5,863.2 534.5,863.3 533.5,863.5 532.5,863.7 531.5,863.9 530.5,864.1 529.5,864.2 528.5,864.4 527.5,864.6 526.5,864.8 525.5,865.0 524.5,865.2 523.5,865.3 522.5,865.5 521.5,865.7 520.5,865.9 519.5,866.1 518.9,866.2ZM551.4,850.3 551.5,850.3 552.5,850.1 553.5,850.0 554.5,849.8 555.5,849.6 556.5,849.4 556.9,849.4 556.9,859.4 556.5,859.4 555.5,859.6 554.5,859.8 553.5,860.0 552.5,860.1 551.5,860.3 551.4,860.3ZM566.3,847.7 566.5,847.7 567.5,847.5 568.5,847.4 569.5,847.2 570.5,847.0 571.5,846.9 572.5,846.7 573.5,846.5 574.5,846.3 575.5,846.2 576.5,846.0 577.5,845.8 578.5,845.7 579.5,845.5 580.5,845.3 581.5,845.2 582.5,845.0 583.5,844.8 584.5,844.6 585.5,844.5 586.5,844.3 587.5,844.1 588.5,844.0 589.3,843.8 589.3,853.8 588.5,854.0 587.5,854.1 586.5,854.3 585.5,854.5 584.5,854.6 583.5,854.8 582.5,855.0 581.5,855.2 580.5,855.3 579.5,855.5 578.5,855.7 577.5,855.8 576.5,856.0 575.5,856.2 574.5,856.3 573.5,856.5 572.5,856.7 571.5,856.9 570.5,857.0 569.5,857.2 568.5,857.4 567.5,857.5 566.5,857.7 566.3,857.7ZM598.8,842.2 599.5,842.1 600.5,842.0 601.5,841.8 602.5,841.6 603.5,841.5 604.3,841.3 604.3,851.3 603.5,851.5 602.5,851.6 601.5,851.8 600.5,852.0 599.5,852.1 598.8,852.2ZM613.8,839.8 614.5,839.6 615.5,839.5 616.5,839.3 617.5,839.1 618.5,839.0 619.5,838.8 620.5,838.6 621.5,838.5 622.5,838.3 623.5,838.1 624.5,838.0 625.5,837.8 626.5,837.6 627.5,837.5 628.5,837.3 629.5,837.1 630.5,837.0 631.5,836.8 632.5,836.6 633.5,836.4 634.5,836.3 635.5,836.1 636.5,835.9 636.8,835.9 636.8,845.9 636.5,845.9 635.5,846.1 634.5,846.3 633.5,846.4 632.5,846.6 631.5,846.8 630.5,847.0 629.5,847.1 628.5,847.3 627.5,847.5 626.5,847.6 625.5,847.8 624.5,848.0 623.5,848.1 622.5,848.3 621.5,848.5 620.5,848.6 619.5,848.8 618.5,849.0 617.5,849.1 616.5,849.3 615.5,849.5 614.5,849.6 613.8,849.8ZM646.3,834.3 646.5,834.3 647.5,834.1 648.5,833.9 649.5,833.8 650.5,833.6 651.5,833.4 651.8,833.4 651.8,843.4 651.5,843.4 650.5,843.6 649.5,843.8 648.5,843.9 647.5,844.1 646.5,844.3 646.3,844.3ZM661.2,831.8 661.6,831.7 662.6,831.5 663.6,831.4 664.6,831.2 665.6,831.0 666.6,830.8 667.6,830.7 668.6,830.5 669.6,830.3 670.6,830.1 671.6,830.0 672.6,829.8 673.6,829.6 674.6,829.4 675.6,829.3 676.6,829.1 677.6,828.9 678.6,828.7 679.6,828.6 680.6,828.4 681.6,828.2 682.6,828.0 683.6,827.9 684.2,827.7 684.2,837.7 683.6,837.9 682.6,838.0 681.6,838.2 680.6,838.4 679.6,838.6 678.6,838.7 677.6,838.9 676.6,839.1 675.6,839.3 674.6,839.4 673.6,839.6 672.6,839.8 671.6,840.0 670.6,840.1 669.6,840.3 668.6,840.5 667.6,840.7 666.6,840.8 665.6,841.0 664.6,841.2 663.6,841.4 662.6,841.5 661.6,841.7 661.2,841.8ZM693.7,826.0 694.6,825.9 695.6,825.7 696.6,825.5 697.6,825.3 698.6,825.2 699.2,825.0 699.2,835.0 698.6,835.2 697.6,835.3 696.6,835.5 695.6,835.7 694.6,835.9 693.7,836.0ZM708.7,823.3 709.6,823.1 710.6,822.9 711.6,822.7 712.6,822.6 713.6,822.4 714.6,822.2 715.6,822.0 716.6,821.8 717.6,821.6 718.6,821.4 719.6,821.2 720.6,821.0 721.6,820.9 722.6,820.7 723.6,820.5 724.6,820.3 725.6,820.1 726.6,819.9 727.6,819.8 728.6,819.6 729.6,819.4 730.6,819.2 731.6,819.1 731.7,819.0 731.7,829.0 731.6,829.1 730.6,829.2 729.6,829.4 728.6,829.6 727.6,829.8 726.6,829.9 725.6,830.1 724.6,830.3 723.6,830.5 722.6,830.7 721.6,830.9 720.6,831.0 719.6,831.2 718.6,831.4 717.6,831.6 716.6,831.8 715.6,832.0 714.6,832.2 713.6,832.4 712.6,832.6 711.6,832.7 710.6,832.9 709.6,833.1 708.7,833.3ZM741.2,817.5 741.6,817.4 742.6,817.3 743.6,817.1 744.6,817.0 745.6,816.8 746.6,816.7 746.7,816.7 746.7,826.7 746.6,826.7 745.6,826.8 744.6,827.0 743.6,827.1 742.6,827.3 741.6,827.4 741.2,827.5ZM756.1,815.6 756.6,815.5 757.6,815.5 758.6,815.4 759.6,815.3 760.6,815.2 761.6,815.1 762.6,815.1 763.6,815.0 764.6,814.9 765.6,814.9 766.6,814.8 767.6,814.8 768.6,814.8 769.6,814.7 770.6,814.7 771.6,814.7 772.6,814.7 773.6,814.7 774.6,814.7 775.6,814.7 776.6,814.7 777.6,814.7 778.6,814.7 779.1,814.7 779.1,824.7 778.6,824.7 777.6,824.7 776.6,824.7 775.6,824.7 774.6,824.7 773.6,824.7 772.6,824.7 771.6,824.7 770.6,824.7 769.6,824.7 768.6,824.8 767.6,824.8 766.6,824.8 765.6,824.9 764.6,824.9 763.6,825.0 762.6,825.1 761.6,825.1 760.6,825.2 759.6,825.3 758.6,825.4 757.6,825.5 756.6,825.5 756.1,825.6ZM788.6,815.1 788.6,815.2 789.6,815.2 790.6,815.3 791.6,815.4 792.6,815.5 793.6,815.5 794.1,815.6 794.1,825.6 793.6,825.5 792.6,825.5 791.6,825.4 790.6,825.3 789.6,825.2 788.6,825.2 788.6,825.1ZM803.6,816.6 803.6,816.6 804.6,816.7 805.6,816.8 806.6,817.0 807.6,817.1 808.6,817.2 809.6,817.4 810.6,817.5 811.6,817.6 812.6,817.8 813.6,817.9 814.6,818.1 815.6,818.2 816.6,818.4 817.6,818.5 818.6,818.7 819.6,818.8 820.7,819.0 821.7,819.2 822.7,819.3 823.7,819.5 824.7,819.6 825.7,819.8 826.6,819.9 826.6,829.9 825.7,829.8 824.7,829.6 823.7,829.5 822.7,829.3 821.7,829.2 820.7,829.0 819.6,828.8 818.6,828.7 817.6,828.5 816.6,828.4 815.6,828.2 814.6,828.1 813.6,827.9 812.6,827.8 811.6,827.6 810.6,827.5 809.6,827.4 808.6,827.2 807.6,827.1 806.6,827.0 805.6,826.8 804.6,826.7 803.6,826.6 803.6,826.6ZM836.1,821.4 836.7,821.5 837.7,821.7 838.7,821.8 839.7,822.0 840.7,822.1 841.6,822.3 841.6,832.3 840.7,832.1 839.7,832.0 838.7,831.8 837.7,831.7 836.7,831.5 836.1,831.4ZM851.0,823.5 851.7,823.6 852.7,823.7 853.7,823.8 854.7,823.9 855.7,824.0 856.7,824.1 857.7,824.2 858.7,824.3 859.7,824.4 860.7,824.5 861.7,824.6 862.7,824.6 863.7,824.7 864.7,824.8 865.7,824.8 866.7,824.9 867.7,824.9 868.7,825.0 869.7,825.0 870.7,825.1 871.7,825.1 872.7,825.1 873.7,825.2 874.0,825.2 874.0,835.2 873.7,835.2 872.7,835.1 871.7,835.1 870.7,835.1 869.7,835.0 868.7,835.0 867.7,834.9 866.7,834.9 865.7,834.8 864.7,834.8 863.7,834.7 862.7,834.6 861.7,834.6 860.7,834.5 859.7,834.4 858.7,834.3 857.7,834.2 856.7,834.1 855.7,834.0 854.7,833.9 853.7,833.8 852.7,833.7 851.7,833.6 851.0,833.5ZM883.5,825.3 883.7,825.3 884.7,825.3 885.7,825.2 886.7,825.2 887.7,825.2 888.7,825.2 889.0,825.2 889.0,835.2 888.7,835.2 887.7,835.2 886.7,835.2 885.7,835.2 884.7,835.3 883.7,835.3 883.5,835.3ZM898.5,824.9 898.7,824.9 899.7,824.8 900.7,824.8 901.7,824.8 902.7,824.7 903.7,824.7 904.7,824.6 905.7,824.6 906.7,824.5 907.7,824.5 908.7,824.4 909.7,824.4 910.7,824.3 911.7,824.3 912.7,824.2 913.7,824.1 914.7,824.1 915.7,824.0 916.7,824.0 917.7,823.9 918.7,823.8 919.7,823.8 920.7,823.7 921.5,823.7 921.5,833.7 920.7,833.7 919.7,833.8 918.7,833.8 917.7,833.9 916.7,834.0 915.7,834.0 914.7,834.1 913.7,834.1 912.7,834.2 911.7,834.3 910.7,834.3 909.7,834.4 908.7,834.4 907.7,834.5 906.7,834.5 905.7,834.6 904.7,834.6 903.7,834.7 902.7,834.7 901.7,834.8 900.7,834.8 899.7,834.8 898.7,834.9 898.5,834.9ZM931.0,823.1 931.7,823.1 932.7,823.0 933.7,822.9 934.7,822.9 935.7,822.8 936.5,822.8 936.5,832.8 935.7,832.8 934.7,832.9 933.7,832.9 932.7,833.0 931.7,833.1 931.0,833.1ZM945.9,822.2 946.7,822.1 947.7,822.0 948.7,822.0 949.7,821.9 950.7,821.8 951.7,821.8 952.7,821.7 953.7,821.7 954.7,821.6 955.7,821.5 956.7,821.4 957.7,821.4 958.7,821.3 959.7,821.2 960.7,821.2 961.7,821.1 962.7,821.0 963.7,821.0 964.7,820.9 965.7,820.8 966.7,820.8 967.7,820.7 968.7,820.6 968.9,820.6 968.9,830.6 968.7,830.6 967.7,830.7 966.7,830.8 965.7,830.8 964.7,830.9 963.7,831.0 962.7,831.0 961.7,831.1 960.7,831.2 959.7,831.2 958.7,831.3 957.7,831.4 956.7,831.4 955.7,831.5 954.7,831.6 953.7,831.7 952.7,831.7 951.7,831.8 950.7,831.8 949.7,831.9 948.7,832.0 947.7,832.0 946.7,832.1 945.9,832.2ZM978.4,819.9 978.7,819.9 979.7,819.8 980.7,819.8 981.7,819.7 982.7,819.6 983.7,819.6 983.9,819.5 983.9,829.5 983.7,829.6 982.7,829.6 981.7,829.7 980.7,829.8 979.7,829.8 978.7,829.9 978.4,829.9ZM993.4,818.9 993.8,818.8 994.8,818.8 995.8,818.7 996.8,818.6 997.8,818.5 998.8,818.5 999.8,818.4 1000.8,818.3 1001.8,818.2 1002.8,818.2 1003.8,818.1 1004.8,818.0 1005.8,817.9 1006.8,817.9 1007.8,817.8 1008.8,817.7 1009.8,817.6 1010.8,817.6 1011.8,817.5 1012.8,817.4 1013.8,817.3 1014.8,817.3 1015.8,817.2 1016.4,817.1 1016.4,827.1 1015.8,827.2 1014.8,827.3 1013.8,827.3 1012.8,827.4 1011.8,827.5 1010.8,827.6 1009.8,827.6 1008.8,827.7 1007.8,827.8 1006.8,827.9 1005.8,827.9 1004.8,828.0 1003.8,828.1 1002.8,828.2 1001.8,828.2 1000.8,828.3 999.8,828.4 998.8,828.5 997.8,828.5 996.8,828.6 995.8,828.7 994.8,828.8 993.8,828.8 993.4,828.9ZM1025.9,816.4 1026.8,816.3 1027.8,816.2 1028.8,816.2 1029.8,816.1 1030.8,816.0 1031.4,816.0 1031.4,826.0 1030.8,826.0 1029.8,826.1 1028.8,826.2 1027.8,826.2 1026.8,826.3 1025.9,826.4ZM1040.8,815.2 1041.8,815.1 1042.8,815.1 1043.8,815.0 1044.8,814.9 1045.8,814.8 1046.8,814.8 1047.8,814.7 1048.8,814.6 1049.8,814.5 1050.8,814.4 1051.8,814.4 1052.8,814.3 1053.8,814.2 1054.8,814.1 1055.8,814.0 1056.8,814.0 1057.8,813.9 1058.8,813.8 1059.8,813.7 1060.8,813.6 1061.8,813.6 1062.8,813.5 1063.8,813.4 1063.8,813.4 1063.8,823.4 1063.8,823.4 1062.8,823.5 1061.8,823.6 1060.8,823.6 1059.8,823.7 1058.8,823.8 1057.8,823.9 1056.8,824.0 1055.8,824.0 1054.8,824.1 1053.8,824.2 1052.8,824.3 1051.8,824.4 1050.8,824.4 1049.8,824.5 1048.8,824.6 1047.8,824.7 1046.8,824.8 1045.8,824.8 1044.8,824.9 1043.8,825.0 1042.8,825.1 1041.8,825.1 1040.8,825.2ZM1073.3,812.6 1073.8,812.6 1074.8,812.5 1075.8,812.4 1076.8,812.3 1077.8,812.3 1078.8,812.2 1078.8,812.2 1078.8,822.2 1078.8,822.2 1077.8,822.3 1076.8,822.3 1075.8,822.4 1074.8,822.5 1073.8,822.6 1073.3,822.6ZM1088.3,811.4 1088.8,811.4 1089.8,811.3 1090.8,811.2 1091.8,811.1 1092.8,811.1 1093.8,811.0 1094.8,810.9 1095.8,810.8 1096.8,810.7 1097.8,810.7 1098.8,810.6 1099.8,810.5 1100.8,810.4 1101.8,810.3 1102.8,810.3 1103.8,810.2 1104.8,810.1 1105.8,810.0 1106.8,809.9 1107.8,809.9 1108.8,809.8 1109.8,809.7 1110.8,809.6 1111.3,809.6 1111.3,819.6 1110.8,819.6 1109.8,819.7 1108.8,819.8 1107.8,819.9 1106.8,819.9 1105.8,820.0 1104.8,820.1 1103.8,820.2 1102.8,820.3 1101.8,820.3 1100.8,820.4 1099.8,820.5 1098.8,820.6 1097.8,820.7 1096.8,820.7 1095.8,820.8 1094.8,820.9 1093.8,821.0 1092.8,821.1 1091.8,821.1 1090.8,821.2 1089.8,821.3 1088.8,821.4 1088.3,821.4ZM1120.8,808.8 1120.8,808.8 1121.8,808.7 1122.8,808.7 1123.8,808.6 1124.8,808.5 1125.8,808.4 1126.3,808.4 1126.3,818.4 1125.8,818.4 1124.8,818.5 1123.8,818.6 1122.8,818.7 1121.8,818.7 1120.8,818.8 1120.8,818.8ZM1135.7,807.6 1135.8,807.6 1136.8,807.5 1137.8,807.5 1138.8,807.4 1139.8,807.3 1140.8,807.2 1141.8,807.2 1142.8,807.1 1143.8,807.0 1144.8,806.9 1145.8,806.8 1146.8,806.8 1147.8,806.7 1148.8,806.6 1149.8,806.5 1150.8,806.5 1151.8,806.4 1152.9,806.3 1153.9,806.2 1154.9,806.1 1155.9,806.1 1156.9,806.0 1157.9,805.9 1158.7,805.8 1158.7,815.8 1157.9,815.9 1156.9,816.0 1155.9,816.1 1154.9,816.1 1153.9,816.2 1152.9,816.3 1151.8,816.4 1150.8,816.5 1149.8,816.5 1148.8,816.6 1147.8,816.7 1146.8,816.8 1145.8,816.8 1144.8,816.9 1143.8,817.0 1142.8,817.1 1141.8,817.2 1140.8,817.2 1139.8,817.3 1138.8,817.4 1137.8,817.5 1136.8,817.5 1135.8,817.6 1135.7,817.6ZM1168.2,805.1 1168.9,805.1 1169.9,805.0 1170.9,804.9 1171.9,804.8 1172.9,804.8 1173.7,804.7 1173.7,814.7 1172.9,814.8 1171.9,814.8 1170.9,814.9 1169.9,815.0 1168.9,815.1 1168.2,815.1ZM1183.2,804.0 1183.9,804.0 1184.9,803.9 1185.9,803.8 1186.9,803.7 1187.9,803.7 1188.9,803.6 1189.9,803.5 1190.9,803.4 1191.9,803.4 1192.9,803.3 1193.9,803.2 1194.9,803.2 1195.9,803.1 1196.9,803.0 1197.9,802.9 1198.9,802.9 1199.9,802.8 1200.9,802.7 1201.9,802.7 1202.9,802.6 1203.9,802.5 1204.9,802.5 1205.9,802.4 1206.2,802.4 1206.2,812.4 1205.9,812.4 1204.9,812.5 1203.9,812.5 1202.9,812.6 1201.9,812.7 1200.9,812.7 1199.9,812.8 1198.9,812.9 1197.9,812.9 1196.9,813.0 1195.9,813.1 1194.9,813.2 1193.9,813.2 1192.9,813.3 1191.9,813.4 1190.9,813.4 1189.9,813.5 1188.9,813.6 1187.9,813.7 1186.9,813.7 1185.9,813.8 1184.9,813.9 1183.9,814.0 1183.2,814.0ZM1215.7,801.7 1215.9,801.7 1216.9,801.6 1217.9,801.6 1218.9,801.5 1219.9,801.4 1220.9,801.4 1221.2,801.3 1221.2,811.3 1220.9,811.4 1219.9,811.4 1218.9,811.5 1217.9,811.6 1216.9,811.6 1215.9,811.7 1215.7,811.7ZM1230.6,800.7 1230.9,800.7 1231.9,800.6 1232.9,800.6 1233.9,800.5 1234.9,800.4 1235.9,800.4 1236.9,800.3 1237.9,800.3 1238.9,800.2 1239.9,800.1 1240.9,800.1 1241.9,800.0 1242.9,799.9 1243.9,799.9 1244.9,799.8 1245.9,799.8 1246.9,799.7 1247.9,799.6 1248.9,799.6 1249.9,799.5 1250.9,799.5 1251.9,799.4 1252.9,799.3 1253.6,799.3 1253.6,809.3 1252.9,809.3 1251.9,809.4 1250.9,809.5 1249.9,809.5 1248.9,809.6 1247.9,809.6 1246.9,809.7 1245.9,809.8 1244.9,809.8 1243.9,809.9 1242.9,809.9 1241.9,810.0 1240.9,810.1 1239.9,810.1 1238.9,810.2 1237.9,810.3 1236.9,810.3 1235.9,810.4 1234.9,810.4 1233.9,810.5 1232.9,810.6 1231.9,810.6 1230.9,810.7 1230.6,810.7ZM1263.1,798.8 1263.9,798.7 1264.9,798.6 1265.9,798.6 1266.9,798.5 1267.9,798.5 1268.6,798.4 1268.6,808.4 1267.9,808.5 1266.9,808.5 1265.9,808.6 1264.9,808.6 1263.9,808.7 1263.1,808.8ZM1278.1,797.9 1278.9,797.9 1279.9,797.8 1280.9,797.8 1281.9,797.7 1282.9,797.7 1283.9,797.6 1284.9,797.6 1285.9,797.5 1286.9,797.5 1287.9,797.4 1288.9,797.4 1289.9,797.3 1290.9,797.3 1291.9,797.2 1292.9,797.2 1293.9,797.1 1294.9,797.1 1295.9,797.1 1296.9,797.0 1297.9,797.0 1298.9,796.9 1299.9,796.9 1300.9,796.8 1301.1,796.8 1301.1,806.8 1300.9,806.8 1299.9,806.9 1298.9,806.9 1297.9,807.0 1296.9,807.0 1295.9,807.1 1294.9,807.1 1293.9,807.1 1292.9,807.2 1291.9,807.2 1290.9,807.3 1289.9,807.3 1288.9,807.4 1287.9,807.4 1286.9,807.5 1285.9,807.5 1284.9,807.6 1283.9,807.6 1282.9,807.7 1281.9,807.7 1280.9,807.8 1279.9,807.8 1278.9,807.9 1278.1,807.9ZM1310.6,796.4 1310.9,796.4 1311.9,796.3 1312.9,796.3 1313.9,796.3 1314.9,796.2 1315.9,796.2 1316.1,796.2 1316.1,806.2 1315.9,806.2 1314.9,806.2 1313.9,806.3 1312.9,806.3 1311.9,806.3 1310.9,806.4 1310.6,806.4ZM1325.5,795.8 1326.0,795.8 1327.0,795.8 1328.0,795.7 1329.0,795.7 1330.0,795.7 1331.0,795.6 1332.0,795.6 1333.0,795.6 1334.0,795.5 1335.0,795.5 1336.0,795.5 1337.0,795.4 1338.0,795.4 1339.0,795.4 1340.0,795.3 1341.0,795.3 1342.0,795.3 1343.0,795.2 1344.0,795.2 1345.0,795.2 1346.0,795.2 1347.0,795.1 1348.0,795.1 1348.5,795.1 1348.5,805.1 1348.0,805.1 1347.0,805.1 1346.0,805.2 1345.0,805.2 1344.0,805.2 1343.0,805.2 1342.0,805.3 1341.0,805.3 1340.0,805.3 1339.0,805.4 1338.0,805.4 1337.0,805.4 1336.0,805.5 1335.0,805.5 1334.0,805.5 1333.0,805.6 1332.0,805.6 1331.0,805.6 1330.0,805.7 1329.0,805.7 1328.0,805.7 1327.0,805.8 1326.0,805.8 1325.5,805.8ZM1358.0,794.8 1359.0,794.8 1360.0,794.8 1361.0,794.8 1362.0,794.7 1363.0,794.7 1363.5,794.7 1363.5,804.7 1363.0,804.7 1362.0,804.7 1361.0,804.8 1360.0,804.8 1359.0,804.8 1358.0,804.8ZM1373.0,794.5 1373.0,794.5 1374.0,794.5 1375.0,794.5 1376.0,794.5 1377.0,794.5 1378.0,794.5 1379.0,794.4 1380.0,794.4 1381.0,794.4 1382.0,794.4 1383.0,794.4 1384.0,794.4 1385.0,794.4 1386.0,794.4 1387.0,794.3 1388.0,794.3 1389.0,794.3 1390.0,794.3 1391.0,794.3 1392.0,794.3 1393.0,794.3 1394.0,794.3 1395.0,794.3 1396.0,794.3 1396.0,804.3 1395.0,804.3 1394.0,804.3 1393.0,804.3 1392.0,804.3 1391.0,804.3 1390.0,804.3 1389.0,804.3 1388.0,804.3 1387.0,804.3 1386.0,804.4 1385.0,804.4 1384.0,804.4 1383.0,804.4 1382.0,804.4 1381.0,804.4 1380.0,804.4 1379.0,804.4 1378.0,804.5 1377.0,804.5 1376.0,804.5 1375.0,804.5 1374.0,804.5 1373.0,804.5 1373.0,804.5Z" fill="#3030ff" stroke="none"/>
<path d="M227.5,993.1 228.5,992.2 229.5,991.4 230.5,990.5 231.5,989.7 232.5,988.8 233.5,988.0 234.5,987.1 235.5,986.3 236.5,985.5 237.5,984.6 238.5,983.8 239.5,983.0 240.5,982.2 241.5,981.4 242.5,980.6 243.5,979.8 244.5,979.0 245.5,978.2 246.5,977.4 247.5,976.6 248.5,975.8 249.5,975.1 250.5,974.3 251.5,973.5 252.5,972.8 253.5,972.0 254.5,971.3 255.5,970.5 256.5,969.8 257.5,969.0 258.5,968.3 259.5,967.5 260.5,966.8 261.5,966.1 262.5,965.4 263.5,964.6 264.5,963.9 265.5,963.2 266.5,962.5 267.5,961.8 268.5,961.1 269.5,960.4 270.5,959.7 271.5,959.0 272.5,958.4 273.5,957.7 274.5,957.0 275.5,956.3 276.5,955.7 277.5,955.0 278.5,954.4 279.5,953.7 280.5,953.0 281.5,952.4 282.5,951.8 283.5,951.1 284.5,950.5 285.5,949.8 286.5,949.2 287.5,948.6 288.5,948.0 289.5,947.3 290.5,946.7 291.5,946.1 292.5,945.5 293.5,944.9 294.5,944.3 295.5,943.7 296.5,943.1 297.5,942.5 298.5,941.9 299.5,941.4 300.5,940.8 301.5,940.2 302.5,939.6 303.5,939.1 304.5,938.5 305.5,937.9 306.5,937.4 307.5,936.8 308.5,936.3 309.5,935.7 310.5,935.2 311.5,934.6 312.5,934.1 313.5,933.5 314.5,933.0 315.5,932.5 316.5,931.9 317.5,931.4 318.5,930.9 319.5,930.4 320.5,929.9 321.5,929.4 322.5,928.8 323.5,928.3 324.5,927.8 325.5,927.3 326.5,926.8 327.5,926.3 328.5,925.9 329.5,925.4 330.5,924.9 331.5,924.4 332.5,923.9 333.5,923.5 334.5,923.0 335.5,922.5 336.5,922.0 337.5,921.6 338.5,921.1 339.5,920.7 340.5,920.2 341.5,919.8 342.5,919.3 343.5,918.9 344.5,918.4 345.6,918.0 346.6,917.5 347.6,917.1 348.6,916.7 349.6,916.2 350.6,915.8 351.6,915.4 352.6,915.0 353.6,914.5 354.6,914.1 355.6,913.7 356.6,913.3 357.6,912.9 358.6,912.5 359.6,912.1 360.6,911.7 361.6,911.3 362.6,910.9 363.6,910.5 364.6,910.1 365.6,909.7 366.6,909.3 367.6,908.9 368.6,908.5 369.6,908.2 370.6,907.8 371.6,907.4 372.6,907.0 373.6,906.7 374.6,906.3 375.6,905.9 376.6,905.6 377.6,905.2 378.6,904.8 379.6,904.5 380.6,904.1 381.6,903.8 382.6,903.4 383.6,903.1 384.6,902.7 385.6,902.4 386.6,902.0 387.6,901.7 388.6,901.4 389.6,901.0 390.6,900.7 391.6,900.4 392.6,900.0 393.6,899.7 394.6,899.4 395.6,899.1 396.6,898.7 397.6,898.4 398.6,898.1 399.6,897.8 400.6,897.5 401.6,897.2 402.6,896.9 403.6,896.5 404.6,896.2 405.6,895.9 406.6,895.6 407.6,895.3 408.6,895.0 409.6,894.7 410.6,894.4 411.6,894.1 412.6,893.9 413.6,893.6 414.6,893.3 415.6,893.0 416.6,892.7 417.6,892.4 418.6,892.1 419.6,891.9 420.6,891.6 421.6,891.3 422.6,891.0 423.6,890.8 424.6,890.5 425.6,890.2 426.6,889.9 427.6,889.7 428.6,889.4 429.6,889.1 430.6,888.9 431.6,888.6 432.6,888.4 433.6,888.1 434.6,887.8 435.6,887.6 436.6,887.3 437.6,887.1 438.6,886.8 439.6,886.6 440.6,886.3 441.6,886.1 442.6,885.8 443.6,885.6 444.6,885.3 445.6,885.1 446.6,884.8 447.6,884.6 448.6,884.4 449.6,884.1 450.6,883.9 451.6,883.7 452.6,883.4 453.6,883.2 454.6,882.9 455.6,882.7 456.6,882.5 457.6,882.3 458.6,882.0 459.6,881.8 460.6,881.6 461.6,881.3 462.6,881.1 463.6,880.9 464.6,880.7 465.6,880.4 466.6,880.2 467.6,880.0 468.6,879.8 469.6,879.6 470.6,879.3 471.6,879.1 472.6,878.9 473.6,878.7 474.6,878.5 475.6,878.3 476.6,878.1 477.6,877.8 478.6,877.6 479.6,877.4 480.6,877.2 481.6,877.0 482.6,876.8 483.6,876.6 484.6,876.4 485.6,876.2 486.6,876.0 487.6,875.8 488.6,875.6 489.6,875.3 490.6,875.1 491.6,874.9 492.6,874.7 493.6,874.5 494.6,874.3 495.6,874.1 496.6,873.9 497.6,873.7 498.6,873.5 499.6,873.3 500.6,873.1 501.6,872.9 502.6,872.7 503.6,872.5 504.6,872.3 505.6,872.1 506.6,871.9 507.6,871.7 508.6,871.6 509.6,871.4 510.6,871.2 511.6,871.0 512.6,870.8 513.6,870.6 514.6,870.4 515.6,870.2 516.6,870.0 517.6,869.8 518.6,869.6 519.6,869.4 520.6,869.2 521.6,869.1 522.6,868.9 523.6,868.7 524.6,868.5 525.6,868.3 526.6,868.1 527.6,867.9 528.6,867.7 529.6,867.6 530.6,867.4 531.6,867.2 532.6,867.0 533.6,866.8 534.6,866.6 535.6,866.4 536.6,866.3 537.6,866.1 538.6,865.9 539.6,865.7 540.6,865.5 541.6,865.4 542.6,865.2 543.6,865.0 544.6,864.8 545.6,864.6 546.6,864.4 547.6,864.3 548.6,864.1 549.6,863.9 550.6,863.7 551.6,863.6 552.6,863.4 553.6,863.2 554.6,863.0 555.6,862.8 556.6,862.7 557.6,862.5 558.6,862.3 559.6,862.1 560.6,862.0 561.6,861.8 562.6,861.6 563.6,861.4 564.6,861.3 565.6,861.1 566.6,860.9 567.6,860.8 568.6,860.6 569.6,860.4 570.6,860.2 571.6,860.1 572.6,859.9 573.6,859.7 574.6,859.6 575.6,859.4 576.6,859.2 577.6,859.0 578.6,858.9 579.6,858.7 580.7,858.5 581.7,858.4 582.7,858.2 583.7,858.0 584.7,857.9 585.7,857.7 586.7,857.5 587.7,857.4 588.7,857.2 589.7,857.0 590.7,856.8 591.7,856.7 592.7,856.5 593.7,856.3 594.7,856.2 595.7,856.0 596.7,855.9 597.7,855.7 598.7,855.5 599.7,855.4 600.7,855.2 601.7,855.0 602.7,854.9 603.7,854.7 604.7,854.5 605.7,854.4 606.7,854.2 607.7,854.0 608.7,853.9 609.7,853.7 610.7,853.5 611.7,853.4 612.7,853.2 613.7,853.1 614.7,852.9 615.7,852.7 616.7,852.6 617.7,852.4 618.7,852.2 619.7,852.1 620.7,851.9 621.7,851.8 622.7,851.6 623.7,851.4 624.7,851.3 625.7,851.1 626.7,850.9 627.7,850.8 628.7,850.6 629.7,850.5 630.7,850.3 631.7,850.1 632.7,850.0 633.7,849.8 634.7,849.7 635.7,849.5 636.7,849.3 637.7,849.2 638.7,849.0 639.7,848.9 640.7,848.7 641.7,848.5 642.7,848.4 643.7,848.2 644.7,848.1 645.7,847.9 646.7,847.7 647.7,847.6 648.7,847.4 649.7,847.3 650.7,847.1 651.7,846.9 652.7,846.8 653.7,846.6 654.7,846.5 655.7,846.3 656.7,846.1 657.7,846.0 658.7,845.8 659.7,845.7 660.7,845.5 661.7,845.3 662.7,845.2 663.7,845.0 664.7,844.9 665.7,844.7 666.7,844.5 667.7,844.4 668.7,844.2 669.7,844.1 670.7,843.9 671.7,843.7 672.7,843.6 673.7,843.4 674.7,843.3 675.7,843.1 676.7,842.9 677.7,842.8 678.7,842.6 679.7,842.5 680.7,842.3 681.7,842.1 682.7,842.0 683.7,841.8 684.7,841.7 685.7,841.5 686.7,841.3 687.7,841.2 688.7,841.0 689.7,840.8 690.7,840.7 691.7,840.5 692.7,840.4 693.7,840.2 694.7,840.0 695.7,839.9 696.7,839.7 697.7,839.6 698.7,839.4 699.7,839.2 700.7,839.1 701.7,838.9 702.7,838.7 703.7,838.6 704.7,838.4 705.7,838.2 706.7,838.1 707.7,837.9 708.7,837.8 709.7,837.6 710.7,837.4 711.7,837.3 712.7,837.1 713.7,836.9 714.7,836.8 715.7,836.6 716.7,836.4 717.7,836.3 718.7,836.1 719.7,835.9 720.7,835.8 721.7,835.6 722.7,835.4 723.7,835.3 724.7,835.1 725.7,834.9 726.7,834.8 727.7,834.6 728.7,834.4 729.7,834.3 730.7,834.1 731.7,833.9 732.7,833.8 733.7,833.6 734.7,833.4 735.7,833.3 736.7,833.1 737.7,832.9 738.7,832.8 739.7,832.6 740.7,832.4 741.7,832.2 742.7,832.1 743.7,831.9 744.7,831.7 745.7,831.6 746.7,831.4 747.7,831.2 748.7,831.0 749.7,830.9 750.7,830.7 751.7,830.5 752.7,830.3 753.7,830.2 754.7,830.0 755.7,829.8 756.7,829.6 757.7,829.5 758.7,829.3 759.7,829.1 760.7,828.9 761.7,828.8 762.7,828.6 763.7,828.4 764.7,828.2 765.7,828.1 766.7,827.9 767.7,827.7 768.7,827.5 769.7,827.3 770.7,827.2 771.7,827.0 772.7,826.8 773.7,826.6 774.7,826.4 775.7,826.3 776.7,826.1 777.7,825.9 778.7,825.7 779.7,825.5 780.7,825.3 781.7,825.2 782.7,825.0 783.7,824.8 784.7,824.6 785.7,824.4 786.7,824.2 787.7,824.1 788.7,823.9 789.7,823.7 790.7,823.5 791.7,823.3 792.7,823.1 793.7,822.9 794.7,822.7 795.7,822.5 796.7,822.4 797.7,822.2 798.7,822.0 799.7,821.8 800.7,821.6 801.7,821.4 802.7,821.2 803.7,821.0 804.7,820.8 805.7,820.7 806.7,820.5 807.7,820.3 808.7,820.1 809.7,820.0 810.7,819.8 811.7,819.6 812.7,819.5 813.7,819.3 814.8,819.2 815.8,819.0 816.8,818.9 817.8,818.8 818.8,818.7 819.8,818.6 820.8,818.5 821.8,818.4 822.8,818.3 823.8,818.2 824.8,818.2 825.8,818.1 826.8,818.1 827.8,818.0 828.8,818.0 829.8,818.0 830.8,818.0 831.8,818.0 832.8,818.1 833.8,818.1 834.8,818.2 835.8,818.2 836.8,818.3 837.8,818.4 838.8,818.5 839.8,818.6 840.8,818.7 841.8,818.9 842.8,819.0 843.8,819.1 844.8,819.3 845.8,819.4 846.8,819.6 847.8,819.8 848.8,819.9 849.8,820.1 850.8,820.3 851.8,820.5 852.8,820.7 853.8,820.9 854.8,821.1 855.8,821.2 856.8,821.4 857.8,821.6 858.8,821.8 859.8,822.0 860.8,822.2 861.8,822.4 862.8,822.6 863.8,822.8 864.8,823.1 865.8,823.3 866.8,823.5 867.8,823.7 868.8,823.9 869.8,824.1 870.8,824.3 871.8,824.5 872.8,824.7 873.8,824.9 874.8,825.1 875.8,825.3 876.8,825.5 877.8,825.7 878.8,825.9 879.8,826.1 880.8,826.2 881.8,826.4 882.8,826.6 883.8,826.8 884.8,827.0 885.8,827.1 886.8,827.3 887.8,827.5 888.8,827.6 889.8,827.8 890.8,828.0 891.8,828.1 892.8,828.3 893.8,828.4 894.8,828.5 895.8,828.7 896.8,828.8 897.8,829.0 898.8,829.1 899.8,829.2 900.8,829.3 901.8,829.5 902.8,829.6 903.8,829.7 904.8,829.8 905.8,829.9 906.8,830.0 907.8,830.1 908.8,830.2 909.8,830.3 910.8,830.4 911.8,830.4 912.8,830.5 913.8,830.6 914.8,830.7 915.8,830.7 916.8,830.8 917.8,830.8 918.8,830.9 919.8,830.9 920.8,831.0 921.8,831.0 922.8,831.1 923.8,831.1 924.8,831.1 925.8,831.1 926.8,831.2 927.8,831.2 928.8,831.2 929.8,831.2 930.8,831.2 931.8,831.2 932.8,831.1 933.8,831.1 934.8,831.1 935.8,831.1 936.8,831.0 937.8,831.0 938.8,831.0 939.8,830.9 940.8,830.9 941.8,830.8 942.8,830.7 943.8,830.7 944.8,830.6 945.8,830.5 946.8,830.5 947.8,830.4 948.8,830.3 949.8,830.2 950.8,830.1 951.8,830.0 952.8,829.9 953.8,829.9 954.8,829.8 955.8,829.7 956.8,829.6 957.8,829.5 958.8,829.3 959.8,829.2 960.8,829.1 961.8,829.0 962.8,828.9 963.8,828.8 964.8,828.7 965.8,828.6 966.8,828.4 967.8,828.3 968.8,828.2 969.8,828.1 970.8,828.0 971.8,827.9 972.8,827.7 973.8,827.6 974.8,827.5 975.8,827.4 976.8,827.3 977.8,827.1 978.8,827.0 979.8,826.9 980.8,826.8 981.8,826.7 982.8,826.6 983.8,826.4 984.8,826.3 985.8,826.2 986.8,826.1 987.8,826.0 988.8,825.9 989.8,825.7 990.8,825.6 991.8,825.5 992.8,825.4 993.8,825.3 994.8,825.2 995.8,825.1 996.8,825.0 997.8,824.8 998.8,824.7 999.8,824.6 1000.8,824.5 1001.8,824.4 1002.8,824.3 1003.8,824.2 1004.8,824.1 1005.8,823.9 1006.8,823.8 1007.8,823.7 1008.8,823.6 1009.8,823.5 1010.8,823.4 1011.8,823.3 1012.8,823.2 1013.8,823.1 1014.8,823.0 1015.8,822.9 1016.8,822.7 1017.8,822.6 1018.8,822.5 1019.8,822.4 1020.8,822.3 1021.8,822.2 1022.8,822.1 1023.8,822.0 1024.8,821.9 1025.8,821.8 1026.8,821.7 1027.8,821.6 1028.8,821.5 1029.8,821.4 1030.8,821.3 1031.8,821.1 1032.8,821.0 1033.8,820.9 1034.8,820.8 1035.8,820.7 1036.8,820.6 1037.8,820.5 1038.8,820.4 1039.8,820.3 1040.8,820.2 1041.8,820.1 1042.8,820.0 1043.8,819.9 1044.8,819.8 1045.8,819.7 1046.8,819.6 1047.8,819.5 1048.8,819.4 1049.9,819.3 1050.9,819.2 1051.9,819.1 1052.9,819.0 1053.9,818.9 1054.9,818.8 1055.9,818.7 1056.9,818.6 1057.9,818.5 1058.9,818.4 1059.9,818.3 1060.9,818.2 1061.9,818.1 1062.9,818.0 1063.9,817.9 1064.9,817.8 1065.9,817.7 1066.9,817.6 1067.9,817.5 1068.9,817.4 1069.9,817.3 1070.9,817.2 1071.9,817.1 1072.9,817.0 1073.9,816.9 1074.9,816.8 1075.9,816.8 1076.9,816.7 1077.9,816.6 1078.9,816.5 1079.9,816.4 1080.9,816.3 1081.9,816.2 1082.9,816.1 1083.9,816.0 1084.9,815.9 1085.9,815.8 1086.9,815.7 1087.9,815.6 1088.9,815.5 1089.9,815.4 1090.9,815.3 1091.9,815.3 1092.9,815.2 1093.9,815.1 1094.9,815.0 1095.9,814.9 1096.9,814.8 1097.9,814.7 1098.9,814.6 1099.9,814.5 1100.9,814.4 1101.9,814.3 1102.9,814.3 1103.9,814.2 1104.9,814.1 1105.9,814.0 1106.9,813.9 1107.9,813.8 1108.9,813.7 1109.9,813.6 1110.9,813.5 1111.9,813.5 1112.9,813.4 1113.9,813.3 1114.9,813.2 1115.9,813.1 1116.9,813.0 1117.9,812.9 1118.9,812.8 1119.9,812.8 1120.9,812.7 1121.9,812.6 1122.9,812.5 1123.9,812.4 1124.9,812.3 1125.9,812.2 1126.9,812.2 1127.9,812.1 1128.9,812.0 1129.9,811.9 1130.9,811.8 1131.9,811.7 1132.9,811.7 1133.9,811.6 1134.9,811.5 1135.9,811.4 1136.9,811.3 1137.9,811.2 1138.9,811.2 1139.9,811.1 1140.9,811.0 1141.9,810.9 1142.9,810.8 1143.9,810.7 1144.9,810.7 1145.9,810.6 1146.9,810.5 1147.9,810.4 1148.9,810.3 1149.9,810.3 1150.9,810.2 1151.9,810.1 1152.9,810.0 1153.9,809.9 1154.9,809.8 1155.9,809.8 1156.9,809.7 1157.9,809.6 1158.9,809.5 1159.9,809.5 1160.9,809.4 1161.9,809.3 1162.9,809.2 1163.9,809.1 1164.9,809.1 1165.9,809.0 1166.9,808.9 1167.9,808.8 1168.9,808.7 1169.9,808.7 1170.9,808.6 1171.9,808.5 1172.9,808.4 1173.9,808.4 1174.9,808.3 1175.9,808.2 1176.9,808.1 1177.9,808.1 1178.9,808.0 1179.9,807.9 1180.9,807.8 1181.9,807.7 1182.9,807.7 1183.9,807.6 1184.9,807.5 1185.9,807.4 1186.9,807.4 1187.9,807.3 1188.9,807.2 1189.9,807.1 1190.9,807.1 1191.9,807.0 1192.9,806.9 1193.9,806.9 1194.9,806.8 1195.9,806.7 1196.9,806.6 1197.9,806.6 1198.9,806.5 1199.9,806.4 1200.9,806.3 1201.9,806.3 1202.9,806.2 1203.9,806.1 1204.9,806.0 1205.9,806.0 1206.9,805.9 1207.9,805.8 1208.9,805.8 1209.9,805.7 1210.9,805.6 1211.9,805.5 1212.9,805.5 1213.9,805.4 1214.9,805.3 1215.9,805.3 1216.9,805.2 1217.9,805.1 1218.9,805.1 1219.9,805.0 1220.9,804.9 1221.9,804.8 1222.9,804.8 1223.9,804.7 1224.9,804.6 1225.9,804.6 1226.9,804.5 1227.9,804.4 1228.9,804.4 1229.9,804.3 1230.9,804.2 1231.9,804.2 1232.9,804.1 1233.9,804.0 1234.9,804.0 1235.9,803.9 1236.9,803.8 1237.9,803.7 1238.9,803.7 1239.9,803.6 1240.9,803.5 1241.9,803.5 1242.9,803.4 1243.9,803.3 1244.9,803.3 1245.9,803.2 1246.9,803.1 1247.9,803.1 1248.9,803.0 1249.9,803.0 1250.9,802.9 1251.9,802.8 1252.9,802.8 1253.9,802.7 1254.9,802.6 1255.9,802.6 1256.9,802.5 1257.9,802.4 1258.9,802.4 1259.9,802.3 1260.9,802.2 1261.9,802.2 1262.9,802.1 1263.9,802.0 1264.9,802.0 1265.9,801.9 1266.9,801.9 1267.9,801.8 1268.9,801.7 1269.9,801.7 1270.9,801.6 1271.9,801.5 1272.9,801.5 1273.9,801.4 1274.9,801.3 1275.9,801.3 1276.9,801.2 1277.9,801.2 1278.9,801.1 1279.9,801.0 1280.9,801.0 1281.9,800.9 1282.9,800.8 1283.9,800.8 1285.0,800.7 1286.0,800.7 1287.0,800.6 1288.0,800.5 1289.0,800.5 1290.0,800.4 1291.0,800.4 1292.0,800.3 1293.0,800.2 1294.0,800.2 1295.0,800.1 1296.0,800.1 1297.0,800.0 1298.0,799.9 1299.0,799.9 1300.0,799.8 1301.0,799.8 1302.0,799.7 1303.0,799.6 1304.0,799.6 1305.0,799.5 1306.0,799.5 1307.0,799.4 1308.0,799.3 1309.0,799.3 1310.0,799.2 1311.0,799.2 1312.0,799.1 1313.0,799.0 1314.0,799.0 1315.0,798.9 1316.0,798.9 1317.0,798.8 1318.0,798.8 1319.0,798.7 1320.0,798.6 1321.0,798.6 1322.0,798.5 1323.0,798.5 1324.0,798.4 1325.0,798.4 1326.0,798.3 1327.0,798.2 1328.0,798.2 1329.0,798.1 1330.0,798.1 1331.0,798.0 1332.0,798.0 1333.0,797.9 1334.0,797.8 1335.0,797.8 1336.0,797.7 1337.0,797.7 1338.0,797.6 1339.0,797.6 1340.0,797.5 1341.0,797.4 1342.0,797.4 1343.0,797.3 1344.0,797.3 1345.0,797.2 1346.0,797.2 1347.0,797.1 1348.0,797.1 1349.0,797.0 1350.0,796.9 1351.0,796.9 1352.0,796.8 1353.0,796.8 1354.0,796.7 1355.0,796.7 1356.0,796.6 1357.0,796.6 1358.0,796.5 1359.0,796.5 1360.0,796.4 1361.0,796.3 1362.0,796.3 1363.0,796.2 1364.0,796.2 1365.0,796.1 1366.0,796.1 1367.0,796.0 1368.0,796.0 1369.0,795.9 1370.0,795.9 1371.0,795.8 1372.0,795.8 1373.0,795.7 1374.0,795.7 1375.0,795.6 1376.0,795.5 1377.0,795.5 1378.0,795.4 1379.0,795.4 1380.0,795.3 1381.0,795.3 1382.0,795.2 1383.0,795.2 1384.0,795.1 1385.0,795.1 1386.0,795.0 1387.0,795.0 1388.0,794.9 1389.0,794.9 1390.0,794.8 1391.0,794.8 1392.0,794.7 1393.0,794.7 1394.0,794.6 1395.0,794.6 1396.0,794.5 1397.0,794.4 1398.0,794.4 1399.0,794.3 1400.0,794.3 1401.0,794.2 1402.0,794.2 1402.0,804.2 1401.0,804.2 1400.0,804.3 1399.0,804.3 1398.0,804.4 1397.0,804.4 1396.0,804.5 1395.0,804.6 1394.0,804.6 1393.0,804.7 1392.0,804.7 1391.0,804.8 1390.0,804.8 1389.0,804.9 1388.0,804.9 1387.0,805.0 1386.0,805.0 1385.0,805.1 1384.0,805.1 1383.0,805.2 1382.0,805.2 1381.0,805.3 1380.0,805.3 1379.0,805.4 1378.0,805.4 1377.0,805.5 1376.0,805.5 1375.0,805.6 1374.0,805.7 1373.0,805.7 1372.0,805.8 1371.0,805.8 1370.0,805.9 1369.0,805.9 1368.0,806.0 1367.0,806.0 1366.0,806.1 1365.0,806.1 1364.0,806.2 1363.0,806.2 1362.0,806.3 1361.0,806.3 1360.0,806.4 1359.0,806.5 1358.0,806.5 1357.0,806.6 1356.0,806.6 1355.0,806.7 1354.0,806.7 1353.0,806.8 1352.0,806.8 1351.0,806.9 1350.0,806.9 1349.0,807.0 1348.0,807.1 1347.0,807.1 1346.0,807.2 1345.0,807.2 1344.0,807.3 1343.0,807.3 1342.0,807.4 1341.0,807.4 1340.0,807.5 1339.0,807.6 1338.0,807.6 1337.0,807.7 1336.0,807.7 1335.0,807.8 1334.0,807.8 1333.0,807.9 1332.0,808.0 1331.0,808.0 1330.0,808.1 1329.0,808.1 1328.0,808.2 1327.0,808.2 1326.0,808.3 1325.0,808.4 1324.0,808.4 1323.0,808.5 1322.0,808.5 1321.0,808.6 1320.0,808.6 1319.0,808.7 1318.0,808.8 1317.0,808.8 1316.0,808.9 1315.0,808.9 1314.0,809.0 1313.0,809.0 1312.0,809.1 1311.0,809.2 1310.0,809.2 1309.0,809.3 1308.0,809.3 1307.0,809.4 1306.0,809.5 1305.0,809.5 1304.0,809.6 1303.0,809.6 1302.0,809.7 1301.0,809.8 1300.0,809.8 1299.0,809.9 1298.0,809.9 1297.0,810.0 1296.0,810.1 1295.0,810.1 1294.0,810.2 1293.0,810.2 1292.0,810.3 1291.0,810.4 1290.0,810.4 1289.0,810.5 1288.0,810.5 1287.0,810.6 1286.0,810.7 1285.0,810.7 1283.9,810.8 1282.9,810.8 1281.9,810.9 1280.9,811.0 1279.9,811.0 1278.9,811.1 1277.9,811.2 1276.9,811.2 1275.9,811.3 1274.9,811.3 1273.9,811.4 1272.9,811.5 1271.9,811.5 1270.9,811.6 1269.9,811.7 1268.9,811.7 1267.9,811.8 1266.9,811.9 1265.9,811.9 1264.9,812.0 1263.9,812.0 1262.9,812.1 1261.9,812.2 1260.9,812.2 1259.9,812.3 1258.9,812.4 1257.9,812.4 1256.9,812.5 1255.9,812.6 1254.9,812.6 1253.9,812.7 1252.9,812.8 1251.9,812.8 1250.9,812.9 1249.9,813.0 1248.9,813.0 1247.9,813.1 1246.9,813.1 1245.9,813.2 1244.9,813.3 1243.9,813.3 1242.9,813.4 1241.9,813.5 1240.9,813.5 1239.9,813.6 1238.9,813.7 1237.9,813.7 1236.9,813.8 1235.9,813.9 1234.9,814.0 1233.9,814.0 1232.9,814.1 1231.9,814.2 1230.9,814.2 1229.9,814.3 1228.9,814.4 1227.9,814.4 1226.9,814.5 1225.9,814.6 1224.9,814.6 1223.9,814.7 1222.9,814.8 1221.9,814.8 1220.9,814.9 1219.9,815.0 1218.9,815.1 1217.9,815.1 1216.9,815.2 1215.9,815.3 1214.9,815.3 1213.9,815.4 1212.9,815.5 1211.9,815.5 1210.9,815.6 1209.9,815.7 1208.9,815.8 1207.9,815.8 1206.9,815.9 1205.9,816.0 1204.9,816.0 1203.9,816.1 1202.9,816.2 1201.9,816.3 1200.9,816.3 1199.9,816.4 1198.9,816.5 1197.9,816.6 1196.9,816.6 1195.9,816.7 1194.9,816.8 1193.9,816.9 1192.9,816.9 1191.9,817.0 1190.9,817.1 1189.9,817.1 1188.9,817.2 1187.9,817.3 1186.9,817.4 1185.9,817.4 1184.9,817.5 1183.9,817.6 1182.9,817.7 1181.9,817.7 1180.9,817.8 1179.9,817.9 1178.9,818.0 1177.9,818.1 1176.9,818.1 1175.9,818.2 1174.9,818.3 1173.9,818.4 1172.9,818.4 1171.9,818.5 1170.9,818.6 1169.9,818.7 1168.9,818.7 1167.9,818.8 1166.9,818.9 1165.9,819.0 1164.9,819.1 1163.9,819.1 1162.9,819.2 1161.9,819.3 1160.9,819.4 1159.9,819.5 1158.9,819.5 1157.9,819.6 1156.9,819.7 1155.9,819.8 1154.9,819.8 1153.9,819.9 1152.9,820.0 1151.9,820.1 1150.9,820.2 1149.9,820.3 1148.9,820.3 1147.9,820.4 1146.9,820.5 1145.9,820.6 1144.9,820.7 1143.9,820.7 1142.9,820.8 1141.9,820.9 1140.9,821.0 1139.9,821.1 1138.9,821.2 1137.9,821.2 1136.9,821.3 1135.9,821.4 1134.9,821.5 1133.9,821.6 1132.9,821.7 1131.9,821.7 1130.9,821.8 1129.9,821.9 1128.9,822.0 1127.9,822.1 1126.9,822.2 1125.9,822.2 1124.9,822.3 1123.9,822.4 1122.9,822.5 1121.9,822.6 1120.9,822.7 1119.9,822.8 1118.9,822.8 1117.9,822.9 1116.9,823.0 1115.9,823.1 1114.9,823.2 1113.9,823.3 1112.9,823.4 1111.9,823.5 1110.9,823.5 1109.9,823.6 1108.9,823.7 1107.9,823.8 1106.9,823.9 1105.9,824.0 1104.9,824.1 1103.9,824.2 1102.9,824.3 1101.9,824.3 1100.9,824.4 1099.9,824.5 1098.9,824.6 1097.9,824.7 1096.9,824.8 1095.9,824.9 1094.9,825.0 1093.9,825.1 1092.9,825.2 1091.9,825.3 1090.9,825.3 1089.9,825.4 1088.9,825.5 1087.9,825.6 1086.9,825.7 1085.9,825.8 1084.9,825.9 1083.9,826.0 1082.9,826.1 1081.9,826.2 1080.9,826.3 1079.9,826.4 1078.9,826.5 1077.9,826.6 1076.9,826.7 1075.9,826.8 1074.9,826.8 1073.9,826.9 1072.9,827.0 1071.9,827.1 1070.9,827.2 1069.9,827.3 1068.9,827.4 1067.9,827.5 1066.9,827.6 1065.9,827.7 1064.9,827.8 1063.9,827.9 1062.9,828.0 1061.9,828.1 1060.9,828.2 1059.9,828.3 1058.9,828.4 1057.9,828.5 1056.9,828.6 1055.9,828.7 1054.9,828.8 1053.9,828.9 1052.9,829.0 1051.9,829.1 1050.9,829.2 1049.9,829.3 1048.8,829.4 1047.8,829.5 1046.8,829.6 1045.8,829.7 1044.8,829.8 1043.8,829.9 1042.8,830.0 1041.8,830.1 1040.8,830.2 1039.8,830.3 1038.8,830.4 1037.8,830.5 1036.8,830.6 1035.8,830.7 1034.8,830.8 1033.8,830.9 1032.8,831.0 1031.8,831.1 1030.8,831.3 1029.8,831.4 1028.8,831.5 1027.8,831.6 1026.8,831.7 1025.8,831.8 1024.8,831.9 1023.8,832.0 1022.8,832.1 1021.8,832.2 1020.8,832.3 1019.8,832.4 1018.8,832.5 1017.8,832.6 1016.8,832.7 1015.8,832.9 1014.8,833.0 1013.8,833.1 1012.8,833.2 1011.8,833.3 1010.8,833.4 1009.8,833.5 1008.8,833.6 1007.8,833.7 1006.8,833.8 1005.8,833.9 1004.8,834.1 1003.8,834.2 1002.8,834.3 1001.8,834.4 1000.8,834.5 999.8,834.6 998.8,834.7 997.8,834.8 996.8,835.0 995.8,835.1 994.8,835.2 993.8,835.3 992.8,835.4 991.8,835.5 990.8,835.6 989.8,835.7 988.8,835.9 987.8,836.0 986.8,836.1 985.8,836.2 984.8,836.3 983.8,836.4 982.8,836.6 981.8,836.7 980.8,836.8 979.8,836.9 978.8,837.0 977.8,837.1 976.8,837.3 975.8,837.4 974.8,837.5 973.8,837.6 972.8,837.7 971.8,837.9 970.8,838.0 969.8,838.1 968.8,838.2 967.8,838.3 966.8,838.4 965.8,838.6 964.8,838.7 963.8,838.8 962.8,838.9 961.8,839.0 960.8,839.1 959.8,839.2 958.8,839.3 957.8,839.5 956.8,839.6 955.8,839.7 954.8,839.8 953.8,839.9 952.8,839.9 951.8,840.0 950.8,840.1 949.8,840.2 948.8,840.3 947.8,840.4 946.8,840.5 945.8,840.5 944.8,840.6 943.8,840.7 942.8,840.7 941.8,840.8 940.8,840.9 939.8,840.9 938.8,841.0 937.8,841.0 936.8,841.0 935.8,841.1 934.8,841.1 933.8,841.1 932.8,841.1 931.8,841.2 930.8,841.2 929.8,841.2 928.8,841.2 927.8,841.2 926.8,841.2 925.8,841.1 924.8,841.1 923.8,841.1 922.8,841.1 921.8,841.0 920.8,841.0 919.8,840.9 918.8,840.9 917.8,840.8 916.8,840.8 915.8,840.7 914.8,840.7 913.8,840.6 912.8,840.5 911.8,840.4 910.8,840.4 909.8,840.3 908.8,840.2 907.8,840.1 906.8,840.0 905.8,839.9 904.8,839.8 903.8,839.7 902.8,839.6 901.8,839.5 900.8,839.3 899.8,839.2 898.8,839.1 897.8,839.0 896.8,838.8 895.8,838.7 894.8,838.5 893.8,838.4 892.8,838.3 891.8,838.1 890.8,838.0 889.8,837.8 888.8,837.6 887.8,837.5 886.8,837.3 885.8,837.1 884.8,837.0 883.8,836.8 882.8,836.6 881.8,836.4 880.8,836.2 879.8,836.1 878.8,835.9 877.8,835.7 876.8,835.5 875.8,835.3 874.8,835.1 873.8,834.9 872.8,834.7 871.8,834.5 870.8,834.3 869.8,834.1 868.8,833.9 867.8,833.7 866.8,833.5 865.8,833.3 864.8,833.1 863.8,832.8 862.8,832.6 861.8,832.4 860.8,832.2 859.8,832.0 858.8,831.8 857.8,831.6 856.8,831.4 855.8,831.2 854.8,831.1 853.8,830.9 852.8,830.7 851.8,830.5 850.8,830.3 849.8,830.1 848.8,829.9 847.8,829.8 846.8,829.6 845.8,829.4 844.8,829.3 843.8,829.1 842.8,829.0 841.8,828.9 840.8,828.7 839.8,828.6 838.8,828.5 837.8,828.4 836.8,828.3 835.8,828.2 834.8,828.2 833.8,828.1 832.8,828.1 831.8,828.0 830.8,828.0 829.8,828.0 828.8,828.0 827.8,828.0 826.8,828.1 825.8,828.1 824.8,828.2 823.8,828.2 822.8,828.3 821.8,828.4 820.8,828.5 819.8,828.6 818.8,828.7 817.8,828.8 816.8,828.9 815.8,829.0 814.8,829.2 813.7,829.3 812.7,829.5 811.7,829.6 810.7,829.8 809.7,830.0 808.7,830.1 807.7,830.3 806.7,830.5 805.7,830.7 804.7,830.8 803.7,831.0 802.7,831.2 801.7,831.4 800.7,831.6 799.7,831.8 798.7,832.0 797.7,832.2 796.7,832.4 795.7,832.5 794.7,832.7 793.7,832.9 792.7,833.1 791.7,833.3 790.7,833.5 789.7,833.7 788.7,833.9 787.7,834.1 786.7,834.2 785.7,834.4 784.7,834.6 783.7,834.8 782.7,835.0 781.7,835.2 780.7,835.3 779.7,835.5 778.7,835.7 777.7,835.9 776.7,836.1 775.7,836.3 774.7,836.4 773.7,836.6 772.7,836.8 771.7,837.0 770.7,837.2 769.7,837.3 768.7,837.5 767.7,837.7 766.7,837.9 765.7,838.1 764.7,838.2 763.7,838.4 762.7,838.6 761.7,838.8 760.7,838.9 759.7,839.1 758.7,839.3 757.7,839.5 756.7,839.6 755.7,839.8 754.7,840.0 753.7,840.2 752.7,840.3 751.7,840.5 750.7,840.7 749.7,840.9 748.7,841.0 747.7,841.2 746.7,841.4 745.7,841.6 744.7,841.7 743.7,841.9 742.7,842.1 741.7,842.2 740.7,842.4 739.7,842.6 738.7,842.8 737.7,842.9 736.7,843.1 735.7,843.3 734.7,843.4 733.7,843.6 732.7,843.8 731.7,843.9 730.7,844.1 729.7,844.3 728.7,844.4 727.7,844.6 726.7,844.8 725.7,844.9 724.7,845.1 723.7,845.3 722.7,845.4 721.7,845.6 720.7,845.8 719.7,845.9 718.7,846.1 717.7,846.3 716.7,846.4 715.7,846.6 714.7,846.8 713.7,846.9 712.7,847.1 711.7,847.3 710.7,847.4 709.7,847.6 708.7,847.8 707.7,847.9 706.7,848.1 705.7,848.2 704.7,848.4 703.7,848.6 702.7,848.7 701.7,848.9 700.7,849.1 699.7,849.2 698.7,849.4 697.7,849.6 696.7,849.7 695.7,849.9 694.7,850.0 693.7,850.2 692.7,850.4 691.7,850.5 690.7,850.7 689.7,850.8 688.7,851.0 687.7,851.2 686.7,851.3 685.7,851.5 684.7,851.7 683.7,851.8 682.7,852.0 681.7,852.1 680.7,852.3 679.7,852.5 678.7,852.6 677.7,852.8 676.7,852.9 675.7,853.1 674.7,853.3 673.7,853.4 672.7,853.6 671.7,853.7 670.7,853.9 669.7,854.1 668.7,854.2 667.7,854.4 666.7,854.5 665.7,854.7 664.7,854.9 663.7,855.0 662.7,855.2 661.7,855.3 660.7,855.5 659.7,855.7 658.7,855.8 657.7,856.0 656.7,856.1 655.7,856.3 654.7,856.5 653.7,856.6 652.7,856.8 651.7,856.9 650.7,857.1 649.7,857.3 648.7,857.4 647.7,857.6 646.7,857.7 645.7,857.9 644.7,858.1 643.7,858.2 642.7,858.4 641.7,858.5 640.7,858.7 639.7,858.9 638.7,859.0 637.7,859.2 636.7,859.3 635.7,859.5 634.7,859.7 633.7,859.8 632.7,860.0 631.7,860.1 630.7,860.3 629.7,860.5 628.7,860.6 627.7,860.8 626.7,860.9 625.7,861.1 624.7,861.3 623.7,861.4 622.7,861.6 621.7,861.8 620.7,861.9 619.7,862.1 618.7,862.2 617.7,862.4 616.7,862.6 615.7,862.7 614.7,862.9 613.7,863.1 612.7,863.2 611.7,863.4 610.7,863.5 609.7,863.7 608.7,863.9 607.7,864.0 606.7,864.2 605.7,864.4 604.7,864.5 603.7,864.7 602.7,864.9 601.7,865.0 600.7,865.2 599.7,865.4 598.7,865.5 597.7,865.7 596.7,865.9 595.7,866.0 594.7,866.2 593.7,866.3 592.7,866.5 591.7,866.7 590.7,866.8 589.7,867.0 588.7,867.2 587.7,867.4 586.7,867.5 585.7,867.7 584.7,867.9 583.7,868.0 582.7,868.2 581.7,868.4 580.7,868.5 579.6,868.7 578.6,868.9 577.6,869.0 576.6,869.2 575.6,869.4 574.6,869.6 573.6,869.7 572.6,869.9 571.6,870.1 570.6,870.2 569.6,870.4 568.6,870.6 567.6,870.8 566.6,870.9 565.6,871.1 564.6,871.3 563.6,871.4 562.6,871.6 561.6,871.8 560.6,872.0 559.6,872.1 558.6,872.3 557.6,872.5 556.6,872.7 555.6,872.8 554.6,873.0 553.6,873.2 552.6,873.4 551.6,873.6 550.6,873.7 549.6,873.9 548.6,874.1 547.6,874.3 546.6,874.4 545.6,874.6 544.6,874.8 543.6,875.0 542.6,875.2 541.6,875.4 540.6,875.5 539.6,875.7 538.6,875.9 537.6,876.1 536.6,876.3 535.6,876.4 534.6,876.6 533.6,876.8 532.6,877.0 531.6,877.2 530.6,877.4 529.6,877.6 528.6,877.7 527.6,877.9 526.6,878.1 525.6,878.3 524.6,878.5 523.6,878.7 522.6,878.9 521.6,879.1 520.6,879.2 519.6,879.4 518.6,879.6 517.6,879.8 516.6,880.0 515.6,880.2 514.6,880.4 513.6,880.6 512.6,880.8 511.6,881.0 510.6,881.2 509.6,881.4 508.6,881.6 507.6,881.7 506.6,881.9 505.6,882.1 504.6,882.3 503.6,882.5 502.6,882.7 501.6,882.9 500.6,883.1 499.6,883.3 498.6,883.5 497.6,883.7 496.6,883.9 495.6,884.1 494.6,884.3 493.6,884.5 492.6,884.7 491.6,884.9 490.6,885.1 489.6,885.3 488.6,885.6 487.6,885.8 486.6,886.0 485.6,886.2 484.6,886.4 483.6,886.6 482.6,886.8 481.6,887.0 480.6,887.2 479.6,887.4 478.6,887.6 477.6,887.8 476.6,888.1 475.6,888.3 474.6,888.5 473.6,888.7 472.6,888.9 471.6,889.1 470.6,889.3 469.6,889.6 468.6,889.8 467.6,890.0 466.6,890.2 465.6,890.4 464.6,890.7 463.6,890.9 462.6,891.1 461.6,891.3 460.6,891.6 459.6,891.8 458.6,892.0 457.6,892.3 456.6,892.5 455.6,892.7 454.6,892.9 453.6,893.2 452.6,893.4 451.6,893.7 450.6,893.9 449.6,894.1 448.6,894.4 447.6,894.6 446.6,894.8 445.6,895.1 444.6,895.3 443.6,895.6 442.6,895.8 441.6,896.1 440.6,896.3 439.6,896.6 438.6,896.8 437.6,897.1 436.6,897.3 435.6,897.6 434.6,897.8 433.6,898.1 432.6,898.4 431.6,898.6 430.6,898.9 429.6,899.1 428.6,899.4 427.6,899.7 426.6,899.9 425.6,900.2 424.6,900.5 423.6,900.8 422.6,901.0 421.6,901.3 420.6,901.6 419.6,901.9 418.6,902.1 417.6,902.4 416.6,902.7 415.6,903.0 414.6,903.3 413.6,903.6 412.6,903.9 411.6,904.1 410.6,904.4 409.6,904.7 408.6,905.0 407.6,905.3 406.6,905.6 405.6,905.9 404.6,906.2 403.6,906.5 402.6,906.9 401.6,907.2 400.6,907.5 399.6,907.8 398.6,908.1 397.6,908.4 396.6,908.7 395.6,909.1 394.6,909.4 393.6,909.7 392.6,910.0 391.6,910.4 390.6,910.7 389.6,911.0 388.6,911.4 387.6,911.7 386.6,912.0 385.6,912.4 384.6,912.7 383.6,913.1 382.6,913.4 381.6,913.8 380.6,914.1 379.6,914.5 378.6,914.8 377.6,915.2 376.6,915.6 375.6,915.9 374.6,916.3 373.6,916.7 372.6,917.0 371.6,917.4 370.6,917.8 369.6,918.2 368.6,918.5 367.6,918.9 366.6,919.3 365.6,919.7 364.6,920.1 363.6,920.5 362.6,920.9 361.6,921.3 360.6,921.7 359.6,922.1 358.6,922.5 357.6,922.9 356.6,923.3 355.6,923.7 354.6,924.1 353.6,924.5 352.6,925.0 351.6,925.4 350.6,925.8 349.6,926.2 348.6,926.7 347.6,927.1 346.6,927.5 345.6,928.0 344.5,928.4 343.5,928.9 342.5,929.3 341.5,929.8 340.5,930.2 339.5,930.7 338.5,931.1 337.5,931.6 336.5,932.0 335.5,932.5 334.5,933.0 333.5,933.5 332.5,933.9 331.5,934.4 330.5,934.9 329.5,935.4 328.5,935.9 327.5,936.3 326.5,936.8 325.5,937.3 324.5,937.8 323.5,938.3 322.5,938.8 321.5,939.4 320.5,939.9 319.5,940.4 318.5,940.9 317.5,941.4 316.5,941.9 315.5,942.5 314.5,943.0 313.5,943.5 312.5,944.1 311.5,944.6 310.5,945.2 309.5,945.7 308.5,946.3 307.5,946.8 306.5,947.4 305.5,947.9 304.5,948.5 303.5,949.1 302.5,949.6 301.5,950.2 300.5,950.8 299.5,951.4 298.5,951.9 297.5,952.5 296.5,953.1 295.5,953.7 294.5,954.3 293.5,954.9 292.5,955.5 291.5,956.1 290.5,956.7 289.5,957.3 288.5,958.0 287.5,958.6 286.5,959.2 285.5,959.8 284.5,960.5 283.5,961.1 282.5,961.8 281.5,962.4 280.5,963.0 279.5,963.7 278.5,964.4 277.5,965.0 276.5,965.7 275.5,966.3 274.5,967.0 273.5,967.7 272.5,968.4 271.5,969.0 270.5,969.7 269.5,970.4 268.5,971.1 267.5,971.8 266.5,972.5 265.5,973.2 264.5,973.9 263.5,974.6 262.5,975.4 261.5,976.1 260.5,976.8 259.5,977.5 258.5,978.3 257.5,979.0 256.5,979.8 255.5,980.5 254.5,981.3 253.5,982.0 252.5,982.8 251.5,983.5 250.5,984.3 249.5,985.1 248.5,985.8 247.5,986.6 246.5,987.4 245.5,988.2 244.5,989.0 243.5,989.8 242.5,990.6 241.5,991.4 240.5,992.2 239.5,993.0 238.5,993.8 237.5,994.6 236.5,995.5 235.5,996.3 234.5,997.1 233.5,998.0 232.5,998.8 231.5,999.7 230.5,1000.5 229.5,1001.4 228.5,1002.2 227.5,1003.1Z" fill="#000060" stroke="none"/>
<path d="M466.0,496.3 467.0,496.6 468.0,496.9 469.0,497.2 470.0,497.5 471.0,497.9 472.0,498.2 473.0,498.6 474.0,498.9 475.0,499.2 476.0,499.6 477.0,500.0 478.0,500.3 479.0,500.7 479.4,500.8 479.4,510.8 479.0,510.7 478.0,510.3 477.0,510.0 476.0,509.6 475.0,509.2 474.0,508.9 473.0,508.6 472.0,508.2 471.0,507.9 470.0,507.5 469.0,507.2 468.0,506.9 467.0,506.6 466.0,506.3ZM488.5,504.3 489.0,504.5 490.0,504.9 491.0,505.4 492.0,505.8 493.0,506.2 494.0,506.6 495.0,507.1 496.0,507.5 497.0,507.9 498.0,508.4 499.0,508.8 500.0,509.3 501.0,509.7 502.0,510.2 503.0,510.6 504.0,511.1 505.0,511.6 506.0,512.0 507.0,512.5 508.0,513.0 509.0,513.5 510.0,514.0 511.0,514.5 512.0,515.0 513.0,515.5 513.9,515.9 513.9,525.9 513.0,525.5 512.0,525.0 511.0,524.5 510.0,524.0 509.0,523.5 508.0,523.0 507.0,522.5 506.0,522.0 505.0,521.6 504.0,521.1 503.0,520.6 502.0,520.2 501.0,519.7 500.0,519.3 499.0,518.8 498.0,518.4 497.0,517.9 496.0,517.5 495.0,517.1 494.0,516.6 493.0,516.2 492.0,515.8 491.0,515.4 490.0,514.9 489.0,514.5 488.5,514.3ZM522.1,520.2 523.0,520.7 524.0,521.2 525.0,521.7 526.0,522.3 527.0,522.9 528.0,523.4 529.0,524.0 530.0,524.5 531.0,525.1 532.0,525.7 533.0,526.3 534.0,526.8 535.0,527.4 536.0,528.0 537.0,528.6 538.0,529.2 539.0,529.8 540.0,530.4 541.0,531.0 542.0,531.6 543.0,532.2 544.0,532.8 545.0,533.5 545.5,533.8 545.5,543.8 545.0,543.5 544.0,542.8 543.0,542.2 542.0,541.6 541.0,541.0 540.0,540.4 539.0,539.8 538.0,539.2 537.0,538.6 536.0,538.0 535.0,537.4 534.0,536.8 533.0,536.3 532.0,535.7 531.0,535.1 530.0,534.5 529.0,534.0 528.0,533.4 527.0,532.9 526.0,532.3 525.0,531.7 524.0,531.2 523.0,530.7 522.1,530.2ZM553.1,538.6 554.0,539.2 555.0,539.9 556.0,540.5 557.0,541.2 558.0,541.9 559.0,542.5 560.0,543.2 561.0,543.9 562.0,544.6 563.0,545.2 564.0,545.9 565.0,546.6 566.0,547.3 567.0,548.0 568.0,548.7 569.0,549.4 570.0,550.1 571.0,550.9 572.0,551.6 573.0,552.3 574.0,553.0 575.0,553.7 575.0,553.8 575.0,563.8 575.0,563.7 574.0,563.0 573.0,562.3 572.0,561.6 571.0,560.9 570.0,560.1 569.0,559.4 568.0,558.7 567.0,558.0 566.0,557.3 565.0,556.6 564.0,555.9 563.0,555.2 562.0,554.6 561.0,553.9 560.0,553.2 559.0,552.5 558.0,551.9 557.0,551.2 556.0,550.5 555.0,549.9 554.0,549.2 553.1,548.6ZM582.2,559.1 583.0,559.7 584.0,560.4 585.0,561.2 586.0,562.0 587.0,562.7 588.0,563.5 589.0,564.3 590.0,565.1 591.0,565.9 592.0,566.6 593.0,567.4 594.0,568.2 595.0,569.0 596.0,569.8 597.0,570.6 598.0,571.4 599.0,572.2 600.0,573.0 601.0,573.8 602.0,574.6 602.9,575.4 602.9,585.4 602.0,584.6 601.0,583.8 600.0,583.0 599.0,582.2 598.0,581.4 597.0,580.6 596.0,579.8 595.0,579.0 594.0,578.2 593.0,577.4 592.0,576.6 591.0,575.9 590.0,575.1 589.0,574.3 588.0,573.5 587.0,572.7 586.0,572.0 585.0,571.2 584.0,570.4 583.0,569.7 582.2,569.1ZM609.7,581.0 610.0,581.2 611.0,582.1 612.0,582.9 613.0,583.7 614.0,584.6 615.0,585.4 616.0,586.2 617.0,587.1 618.0,587.9 619.0,588.8 620.0,589.6 621.0,590.4 622.0,591.3 623.0,592.1 624.0,593.0 625.0,593.8 626.0,594.7 627.0,595.5 628.0,596.4 629.0,597.2 629.8,597.9 629.8,607.9 629.0,607.2 628.0,606.4 627.0,605.5 626.0,604.7 625.0,603.8 624.0,603.0 623.0,602.1 622.0,601.3 621.0,600.4 620.0,599.6 619.0,598.8 618.0,597.9 617.0,597.1 616.0,596.2 615.0,595.4 614.0,594.6 613.0,593.7 612.0,592.9 611.0,592.1 610.0,591.2 609.7,591.0ZM636.6,603.7 637.0,604.0 638.0,604.8 639.0,605.7 640.0,606.5 641.0,607.4 642.0,608.2 643.0,609.0 644.0,609.9 645.0,610.7 646.0,611.6 647.0,612.4 648.0,613.3 649.0,614.1 650.0,614.9 651.0,615.8 652.0,616.6 653.0,617.5 654.0,618.3 655.0,619.2 656.0,620.0 656.7,620.6 656.7,630.6 656.0,630.0 655.0,629.2 654.0,628.3 653.0,627.5 652.0,626.6 651.0,625.8 650.0,624.9 649.0,624.1 648.0,623.3 647.0,622.4 646.0,621.6 645.0,620.7 644.0,619.9 643.0,619.0 642.0,618.2 641.0,617.4 640.0,616.5 639.0,615.7 638.0,614.8 637.0,614.0 636.6,613.7ZM663.4,626.4 664.0,626.9 665.0,627.8 666.0,628.6 667.0,629.5 668.0,630.4 669.0,631.3 670.0,632.1 671.0,633.0 672.0,633.9 673.0,634.8 674.0,635.7 675.0,636.6 676.0,637.5 677.0,638.4 678.0,639.4 679.0,640.3 680.0,641.2 681.0,642.1 682.0,643.1 682.9,643.9 682.9,653.9 682.0,653.1 681.0,652.1 680.0,651.2 679.0,650.3 678.0,649.4 677.0,648.4 676.0,647.5 675.0,646.6 674.0,645.7 673.0,644.8 672.0,643.9 671.0,643.0 670.0,642.1 669.0,641.3 668.0,640.4 667.0,639.5 666.0,638.6 665.0,637.8 664.0,636.9 663.4,636.4ZM689.2,650.0 690.0,650.8 691.0,651.8 692.0,652.8 693.0,653.8 694.0,654.8 694.0,664.8 693.0,663.8 692.0,662.8 691.0,661.8 690.0,660.8 689.2,660.0ZM695.0,655.8 696.0,656.8 697.0,657.8 698.0,658.8 699.0,659.8 700.0,660.8 701.0,661.8 702.0,662.8 703.0,663.9 704.0,664.9 705.0,666.0 706.0,667.0 707.0,668.1 708.0,669.2 709.0,670.2 710.0,671.3 711.0,672.4 712.0,673.5 712.4,673.9 702.4,673.9 702.0,673.5 701.0,672.4 700.0,671.3 699.0,670.2 698.0,669.2 697.0,668.1 696.0,667.0 695.0,666.0 694.0,664.9 693.0,663.9 692.0,662.8 691.0,661.8 690.0,660.8 689.0,659.8 688.0,658.8 687.0,657.8 686.0,656.8 685.0,655.8ZM718.3,680.5 719.0,681.4 720.0,682.5 721.0,683.6 722.0,684.8 723.0,685.9 724.0,687.0 725.0,688.2 726.0,689.3 727.0,690.5 728.0,691.6 729.0,692.8 730.0,693.9 731.0,695.1 732.0,696.2 733.0,697.3 734.0,698.5 735.0,699.6 735.5,700.2 725.5,700.2 725.0,699.6 724.0,698.5 723.0,697.3 722.0,696.2 721.0,695.1 720.0,693.9 719.0,692.8 718.0,691.6 717.0,690.5 716.0,689.3 715.0,688.2 714.0,687.0 713.0,685.9 712.0,684.8 711.0,683.6 710.0,682.5 709.0,681.4 708.3,680.5ZM741.4,706.8 742.0,707.5 743.0,708.6 744.0,709.7 745.0,710.8 746.0,711.9 747.0,713.0 748.0,714.1 749.0,715.1 750.0,716.2 751.0,717.2 752.0,718.3 753.0,719.3 754.0,720.4 755.0,721.4 756.0,722.4 757.0,723.4 758.0,724.5 759.0,725.5 759.4,725.9 749.4,725.9 749.0,725.5 748.0,724.5 747.0,723.4 746.0,722.4 745.0,721.4 744.0,720.4 743.0,719.3 742.0,718.3 741.0,717.2 740.0,716.2 739.0,715.1 738.0,714.1 737.0,713.0 736.0,711.9 735.0,710.8 734.0,709.7 733.0,708.6 732.0,707.5 731.4,706.8ZM760.7,727.1 761.0,727.4 762.0,728.4 763.0,729.4 764.0,730.4 765.0,731.4 766.0,732.4 767.0,733.4 768.0,734.3 769.0,735.3 770.0,736.3 771.0,737.3 772.0,738.3 773.0,739.3 774.0,740.3 775.0,741.3 776.0,742.3 776.0,752.3 775.0,751.3 774.0,750.3 773.0,749.3 772.0,748.3 771.0,747.3 770.0,746.3 769.0,745.3 768.0,744.3 767.0,743.4 766.0,742.4 765.0,741.4 764.0,740.4 763.0,739.4 762.0,738.4 761.0,737.4 760.7,737.1ZM777.0,743.3 778.0,744.3 779.0,745.3 780.0,746.3 781.0,747.3 782.0,748.3 783.0,749.3 784.0,750.3 784.2,750.6 774.2,750.6 774.0,750.3 773.0,749.3 772.0,748.3 771.0,747.3 770.0,746.3 769.0,745.3 768.0,744.3 767.0,743.3ZM790.3,756.9 791.0,757.6 792.0,758.7 793.0,759.8 794.0,760.9 795.0,761.9 796.0,763.0 797.0,764.1 798.0,765.2 799.0,766.3 800.0,767.4 801.0,768.4 802.0,769.5 803.0,770.6 804.0,771.7 805.0,772.8 806.0,773.8 807.0,774.9 808.0,776.0 808.1,776.1 798.1,776.1 798.0,776.0 797.0,774.9 796.0,773.8 795.0,772.8 794.0,771.7 793.0,770.6 792.0,769.5 791.0,768.4 790.0,767.4 789.0,766.3 788.0,765.2 787.0,764.1 786.0,763.0 785.0,761.9 784.0,760.9 783.0,759.8 782.0,758.7 781.0,757.6 780.3,756.9ZM814.3,782.5 815.0,783.2 816.0,784.3 817.0,785.2 818.0,786.2 808.0,786.2 807.0,785.2 806.0,784.3 805.0,783.2 804.3,782.5ZM809.3,777.5 810.0,778.2 811.0,779.3 812.0,780.2 813.0,781.2 814.0,782.2 815.0,783.2 816.0,784.1 817.0,785.0 818.0,785.9 819.0,786.8 820.0,787.7 821.0,788.6 822.0,789.5 823.0,790.3 824.0,791.1 825.0,791.9 826.0,792.7 827.0,793.5 828.0,794.3 828.8,794.9 828.8,804.9 828.0,804.3 827.0,803.5 826.0,802.7 825.0,801.9 824.0,801.1 823.0,800.3 822.0,799.5 821.0,798.6 820.0,797.7 819.0,796.8 818.0,795.9 817.0,795.0 816.0,794.1 815.0,793.2 814.0,792.2 813.0,791.2 812.0,790.2 811.0,789.3 810.0,788.2 809.3,787.5ZM836.1,800.2 837.0,800.8 838.0,801.5 839.0,802.1 840.0,802.8 841.0,803.4 842.0,804.0 843.0,804.7 844.0,805.3 845.0,805.9 846.0,806.5 847.0,807.1 848.0,807.7 849.0,808.3 850.0,808.8 851.0,809.4 852.0,810.0 853.0,810.5 854.0,811.1 855.0,811.7 856.0,812.2 857.0,812.8 858.0,813.3 859.0,813.8 859.3,814.0 859.3,824.0 859.0,823.8 858.0,823.3 857.0,822.8 856.0,822.2 855.0,821.7 854.0,821.1 853.0,820.5 852.0,820.0 851.0,819.4 850.0,818.8 849.0,818.3 848.0,817.7 847.0,817.1 846.0,816.5 845.0,815.9 844.0,815.3 843.0,814.7 842.0,814.0 841.0,813.4 840.0,812.8 839.0,812.1 838.0,811.5 837.0,810.8 836.1,810.2ZM867.5,818.3 868.0,818.6 869.0,819.1 870.0,819.7 871.0,820.2 872.0,820.7 873.0,821.2 874.0,821.8 875.0,822.3 876.0,822.8 877.0,823.4 878.0,823.9 879.0,824.5 880.0,825.0 881.0,825.5 882.0,826.1 883.0,826.6 884.0,827.2 885.0,827.8 886.0,828.3 887.0,828.9 888.0,829.4 889.0,830.0 890.0,830.6 891.0,831.1 891.4,831.4 891.4,841.4 891.0,841.1 890.0,840.6 889.0,840.0 888.0,839.4 887.0,838.9 886.0,838.3 885.0,837.8 884.0,837.2 883.0,836.6 882.0,836.1 881.0,835.5 880.0,835.0 879.0,834.5 878.0,833.9 877.0,833.4 876.0,832.8 875.0,832.3 874.0,831.8 873.0,831.2 872.0,830.7 871.0,830.2 870.0,829.7 869.0,829.1 868.0,828.6 867.5,828.3ZM899.4,835.9 900.0,836.3 901.0,836.9 902.0,837.5 903.0,838.0 904.0,838.6 905.0,839.2 906.0,839.8 907.0,840.4 908.0,841.0 909.0,841.6 910.0,842.2 911.0,842.8 912.0,843.4 913.0,844.0 914.0,844.6 915.0,845.2 916.0,845.8 917.0,846.4 918.0,847.0 919.0,847.6 920.0,848.2 921.0,848.8 922.0,849.4 922.5,849.7 922.5,859.7 922.0,859.4 921.0,858.8 920.0,858.2 919.0,857.6 918.0,857.0 917.0,856.4 916.0,855.8 915.0,855.2 914.0,854.6 913.0,854.0 912.0,853.4 911.0,852.8 910.0,852.2 909.0,851.6 908.0,851.0 907.0,850.4 906.0,849.8 905.0,849.2 904.0,848.6 903.0,848.0 902.0,847.5 901.0,846.9 900.0,846.3 899.4,845.9ZM930.3,854.5 931.0,854.9 932.0,855.5 933.0,856.1 934.0,856.8 935.0,857.4 936.0,858.0 937.0,858.6 938.0,859.2 939.0,859.8 940.0,860.5 941.0,861.1 942.0,861.7 943.0,862.3 944.0,862.9 945.0,863.5 946.0,864.2 947.0,864.8 948.0,865.4 949.0,866.0 950.0,866.6 951.0,867.3 952.0,867.9 953.0,868.5 953.2,868.6 953.2,878.6 953.0,878.5 952.0,877.9 951.0,877.3 950.0,876.6 949.0,876.0 948.0,875.4 947.0,874.8 946.0,874.2 945.0,873.5 944.0,872.9 943.0,872.3 942.0,871.7 941.0,871.1 940.0,870.5 939.0,869.8 938.0,869.2 937.0,868.6 936.0,868.0 935.0,867.4 934.0,866.8 933.0,866.1 932.0,865.5 931.0,864.9 930.3,864.5ZM960.9,873.4 961.0,873.4 962.0,874.0 963.0,874.7 964.0,875.3 965.0,875.9 966.0,876.5 967.0,877.1 968.0,877.7 969.0,878.3 970.0,878.9 971.0,879.6 972.0,880.2 973.0,880.8 974.0,881.4 975.0,882.0 976.0,882.6 977.0,883.2 978.0,883.8 979.0,884.4 980.0,885.0 981.0,885.6 982.0,886.2 983.0,886.8 983.9,887.3 983.9,897.3 983.0,896.8 982.0,896.2 981.0,895.6 980.0,895.0 979.0,894.4 978.0,893.8 977.0,893.2 976.0,892.6 975.0,892.0 974.0,891.4 973.0,890.8 972.0,890.2 971.0,889.6 970.0,888.9 969.0,888.3 968.0,887.7 967.0,887.1 966.0,886.5 965.0,885.9 964.0,885.3 963.0,884.7 962.0,884.0 961.0,883.4 960.9,883.4ZM991.8,892.0 992.0,892.1 993.0,892.7 994.0,893.3 995.0,893.9 996.0,894.5 997.0,895.0 998.0,895.6 999.0,896.2 1000.0,896.8 1001.0,897.3 1002.0,897.9 1003.0,898.5 1004.0,899.0 1005.0,899.6 1006.0,900.2 1007.0,900.7 1008.0,901.3 1009.0,901.8 1010.0,902.4 1011.0,903.0 1012.0,903.5 1013.0,904.1 1014.0,904.6 1015.0,905.2 1015.4,905.4 1015.4,915.4 1015.0,915.2 1014.0,914.6 1013.0,914.1 1012.0,913.5 1011.0,913.0 1010.0,912.4 1009.0,911.8 1008.0,911.3 1007.0,910.7 1006.0,910.2 1005.0,909.6 1004.0,909.0 1003.0,908.5 1002.0,907.9 1001.0,907.3 1000.0,906.8 999.0,906.2 998.0,905.6 997.0,905.0 996.0,904.5 995.0,903.9 994.0,903.3 993.0,902.7 992.0,902.1 991.8,902.0ZM1023.5,909.7 1024.0,910.0 1025.0,910.5 1026.0,911.0 1027.0,911.6 1028.0,912.1 1029.0,912.6 1030.0,913.1 1031.0,913.7 1032.0,914.2 1033.0,914.7 1034.0,915.2 1035.0,915.7 1036.0,916.2 1037.0,916.7 1038.0,917.2 1039.0,917.7 1040.0,918.2 1041.0,918.7 1042.0,919.2 1043.0,919.7 1044.0,920.2 1045.0,920.7 1046.0,921.2 1047.0,921.7 1048.0,922.2 1048.0,922.2 1048.0,932.2 1048.0,932.2 1047.0,931.7 1046.0,931.2 1045.0,930.7 1044.0,930.2 1043.0,929.7 1042.0,929.2 1041.0,928.7 1040.0,928.2 1039.0,927.7 1038.0,927.2 1037.0,926.7 1036.0,926.2 1035.0,925.7 1034.0,925.2 1033.0,924.7 1032.0,924.2 1031.0,923.7 1030.0,923.1 1029.0,922.6 1028.0,922.1 1027.0,921.6 1026.0,921.0 1025.0,920.5 1024.0,920.0 1023.5,919.7ZM1056.5,926.3 1057.0,926.5 1058.0,927.0 1059.0,927.5 1060.0,928.0 1061.0,928.4 1062.0,928.9 1063.0,929.4 1064.0,929.8 1065.0,930.3 1066.0,930.8 1067.0,931.2 1068.0,931.7 1069.0,932.1 1070.0,932.6 1071.0,933.1 1072.0,933.5 1073.0,934.0 1074.0,934.4 1075.0,934.9 1076.0,935.3 1077.0,935.8 1078.0,936.2 1079.0,936.6 1080.0,937.1 1081.0,937.5 1081.9,937.9 1081.9,947.9 1081.0,947.5 1080.0,947.1 1079.0,946.6 1078.0,946.2 1077.0,945.8 1076.0,945.3 1075.0,944.9 1074.0,944.4 1073.0,944.0 1072.0,943.5 1071.0,943.1 1070.0,942.6 1069.0,942.1 1068.0,941.7 1067.0,941.2 1066.0,940.8 1065.0,940.3 1064.0,939.8 1063.0,939.4 1062.0,938.9 1061.0,938.4 1060.0,938.0 1059.0,937.5 1058.0,937.0 1057.0,936.5 1056.5,936.3ZM1090.6,941.7 1091.0,941.9 1092.0,942.3 1093.0,942.7 1094.0,943.1 1095.0,943.6 1096.0,944.0 1097.0,944.4 1098.0,944.8 1099.0,945.2 1100.0,945.7 1101.0,946.1 1102.0,946.5 1103.0,946.9 1104.0,947.3 1105.0,947.7 1106.0,948.1 1107.0,948.5 1108.0,948.9 1109.0,949.4 1110.0,949.8 1111.0,950.2 1112.0,950.6 1113.0,951.0 1114.0,951.4 1115.0,951.8 1116.0,952.2 1116.8,952.5 1116.8,962.5 1116.0,962.2 1115.0,961.8 1114.0,961.4 1113.0,961.0 1112.0,960.6 1111.0,960.2 1110.0,959.8 1109.0,959.4 1108.0,958.9 1107.0,958.5 1106.0,958.1 1105.0,957.7 1104.0,957.3 1103.0,956.9 1102.0,956.5 1101.0,956.1 1100.0,955.7 1099.0,955.2 1098.0,954.8 1097.0,954.4 1096.0,954.0 1095.0,953.6 1094.0,953.1 1093.0,952.7 1092.0,952.3 1091.0,951.9 1090.6,951.7ZM1125.8,956.0 1126.0,956.1 1127.0,956.5 1128.0,956.8 1129.0,957.2 1130.0,957.6 1131.0,958.0 1132.0,958.4 1133.0,958.7 1134.0,959.1 1135.0,959.5 1136.0,959.9 1137.0,960.3 1138.0,960.6 1139.0,961.0 1140.0,961.4 1141.0,961.7 1142.0,962.1 1143.0,962.5 1144.0,962.9 1145.0,963.2 1146.0,963.6 1147.0,964.0 1148.0,964.3 1149.0,964.7 1150.0,965.0 1151.0,965.4 1152.0,965.8 1152.7,966.0 1152.7,976.0 1152.0,975.8 1151.0,975.4 1150.0,975.0 1149.0,974.7 1148.0,974.3 1147.0,974.0 1146.0,973.6 1145.0,973.2 1144.0,972.9 1143.0,972.5 1142.0,972.1 1141.0,971.7 1140.0,971.4 1139.0,971.0 1138.0,970.6 1137.0,970.3 1136.0,969.9 1135.0,969.5 1134.0,969.1 1133.0,968.7 1132.0,968.4 1131.0,968.0 1130.0,967.6 1129.0,967.2 1128.0,966.8 1127.0,966.5 1126.0,966.1 1125.8,966.0ZM1162.0,969.3 1162.0,969.3 1163.0,969.7 1164.0,970.0 1165.0,970.4 1166.0,970.7 1167.0,971.1 1168.0,971.4 1169.0,971.8 1170.0,972.1 1171.0,972.5 1172.0,972.8 1173.0,973.2 1174.0,973.5 1175.0,973.8 1176.0,974.2 1177.0,974.5 1178.0,974.9 1179.0,975.2 1180.0,975.5 1181.0,975.9 1182.0,976.2 1183.0,976.5 1184.0,976.9 1185.0,977.2 1186.0,977.5 1187.0,977.9 1188.0,978.2 1189.0,978.5 1189.6,978.7 1189.6,988.7 1189.0,988.5 1188.0,988.2 1187.0,987.9 1186.0,987.5 1185.0,987.2 1184.0,986.9 1183.0,986.5 1182.0,986.2 1181.0,985.9 1180.0,985.5 1179.0,985.2 1178.0,984.9 1177.0,984.5 1176.0,984.2 1175.0,983.8 1174.0,983.5 1173.0,983.2 1172.0,982.8 1171.0,982.5 1170.0,982.1 1169.0,981.8 1168.0,981.4 1167.0,981.1 1166.0,980.7 1165.0,980.4 1164.0,980.0 1163.0,979.7 1162.0,979.3 1162.0,979.3ZM1199.0,981.8 1200.0,982.1 1201.0,982.4 1202.0,982.7 1203.0,983.0 1204.0,983.3 1205.0,983.7 1206.0,984.0 1207.0,984.3 1208.0,984.6 1209.0,984.9 1210.0,985.2 1211.0,985.5 1212.0,985.9 1213.0,986.2 1214.0,986.5 1215.0,986.8 1216.0,987.1 1217.0,987.4 1218.0,987.7 1219.0,988.0 1220.0,988.3 1221.0,988.6 1222.0,988.9 1223.0,989.2 1224.0,989.5 1225.0,989.8 1226.0,990.1 1227.0,990.4 1227.3,990.5 1227.3,1000.5 1227.0,1000.4 1226.0,1000.1 1225.0,999.8 1224.0,999.5 1223.0,999.2 1222.0,998.9 1221.0,998.6 1220.0,998.3 1219.0,998.0 1218.0,997.7 1217.0,997.4 1216.0,997.1 1215.0,996.8 1214.0,996.5 1213.0,996.2 1212.0,995.9 1211.0,995.5 1210.0,995.2 1209.0,994.9 1208.0,994.6 1207.0,994.3 1206.0,994.0 1205.0,993.7 1204.0,993.3 1203.0,993.0 1202.0,992.7 1201.0,992.4 1200.0,992.1 1199.0,991.8ZM1236.9,993.3 1237.0,993.4 1238.0,993.7 1239.0,993.9 1240.0,994.2 1241.0,994.5 1242.0,994.8 1243.0,995.1 1244.0,995.4 1245.0,995.7 1246.0,996.0 1247.0,996.2 1248.0,996.5 1249.0,996.8 1250.0,997.1 1251.0,997.4 1252.0,997.6 1253.0,997.9 1254.0,998.2 1255.0,998.5 1256.0,998.8 1257.0,999.0 1258.0,999.3 1259.0,999.6 1260.0,999.9 1261.0,1000.1 1262.0,1000.4 1263.0,1000.7 1264.0,1001.0 1265.0,1001.2 1265.8,1001.5 1265.8,1011.5 1265.0,1011.2 1264.0,1011.0 1263.0,1010.7 1262.0,1010.4 1261.0,1010.1 1260.0,1009.9 1259.0,1009.6 1258.0,1009.3 1257.0,1009.0 1256.0,1008.8 1255.0,1008.5 1254.0,1008.2 1253.0,1007.9 1252.0,1007.6 1251.0,1007.4 1250.0,1007.1 1249.0,1006.8 1248.0,1006.5 1247.0,1006.2 1246.0,1006.0 1245.0,1005.7 1244.0,1005.4 1243.0,1005.1 1242.0,1004.8 1241.0,1004.5 1240.0,1004.2 1239.0,1003.9 1238.0,1003.7 1237.0,1003.4 1236.9,1003.3ZM1275.7,1004.1 1276.0,1004.2 1277.0,1004.4 1278.0,1004.7 1279.0,1005.0 1280.0,1005.2 1281.0,1005.5 1282.0,1005.8 1283.0,1006.0 1284.0,1006.3 1285.0,1006.5 1286.0,1006.8 1287.0,1007.0 1288.0,1007.3 1289.0,1007.6 1290.0,1007.8 1291.0,1008.1 1292.0,1008.3 1293.0,1008.6 1294.0,1008.8 1295.0,1009.1 1296.0,1009.3 1297.0,1009.6 1298.0,1009.8 1299.0,1010.1 1300.0,1010.3 1301.0,1010.6 1302.0,1010.8 1303.0,1011.1 1304.0,1011.3 1305.0,1011.6 1305.2,1011.6 1305.2,1021.6 1305.0,1021.6 1304.0,1021.3 1303.0,1021.1 1302.0,1020.8 1301.0,1020.6 1300.0,1020.3 1299.0,1020.1 1298.0,1019.8 1297.0,1019.6 1296.0,1019.3 1295.0,1019.1 1294.0,1018.8 1293.0,1018.6 1292.0,1018.3 1291.0,1018.1 1290.0,1017.8 1289.0,1017.6 1288.0,1017.3 1287.0,1017.0 1286.0,1016.8 1285.0,1016.5 1284.0,1016.3 1283.0,1016.0 1282.0,1015.8 1281.0,1015.5 1280.0,1015.2 1279.0,1015.0 1278.0,1014.7 1277.0,1014.4 1276.0,1014.2 1275.7,1014.1ZM1315.2,1014.1 1316.0,1014.2 1317.0,1014.5 1318.0,1014.7 1319.0,1015.0 1320.0,1015.2 1321.0,1015.4 1322.0,1015.7 1323.0,1015.9 1324.0,1016.2 1325.0,1016.4 1326.0,1016.6 1327.0,1016.9 1328.0,1017.1 1329.0,1017.3 1330.0,1017.6 1331.0,1017.8 1332.0,1018.0 1333.0,1018.2 1334.0,1018.5 1335.0,1018.7 1336.0,1018.9 1337.0,1019.2 1338.0,1019.4 1339.0,1019.6 1340.0,1019.9 1341.0,1020.1 1342.0,1020.3 1343.0,1020.5 1344.0,1020.8 1345.0,1021.0 1345.2,1021.0 1345.2,1031.0 1345.0,1031.0 1344.0,1030.8 1343.0,1030.5 1342.0,1030.3 1341.0,1030.1 1340.0,1029.9 1339.0,1029.6 1338.0,1029.4 1337.0,1029.2 1336.0,1028.9 1335.0,1028.7 1334.0,1028.5 1333.0,1028.2 1332.0,1028.0 1331.0,1027.8 1330.0,1027.6 1329.0,1027.3 1328.0,1027.1 1327.0,1026.9 1326.0,1026.6 1325.0,1026.4 1324.0,1026.2 1323.0,1025.9 1322.0,1025.7 1321.0,1025.4 1320.0,1025.2 1319.0,1025.0 1318.0,1024.7 1317.0,1024.5 1316.0,1024.2 1315.2,1024.1ZM1355.5,1023.3 1356.0,1023.4 1357.0,1023.6 1358.0,1023.9 1359.0,1024.1 1360.0,1024.3 1361.0,1024.5 1362.0,1024.7 1363.0,1024.9 1364.0,1025.2 1365.0,1025.4 1366.0,1025.6 1367.0,1025.8 1368.0,1026.0 1369.0,1026.2 1370.0,1026.4 1371.0,1026.7 1372.0,1026.9 1373.0,1027.1 1374.0,1027.3 1375.0,1027.5 1376.0,1027.7 1377.0,1027.9 1378.0,1028.1 1379.0,1028.3 1380.0,1028.6 1381.0,1028.8 1382.0,1029.0 1383.0,1029.2 1384.0,1029.4 1385.0,1029.6 1386.0,1029.8 1386.0,1039.8 1385.0,1039.6 1384.0,1039.4 1383.0,1039.2 1382.0,1039.0 1381.0,1038.8 1380.0,1038.6 1379.0,1038.3 1378.0,1038.1 1377.0,1037.9 1376.0,1037.7 1375.0,1037.5 1374.0,1037.3 1373.0,1037.1 1372.0,1036.9 1371.0,1036.7 1370.0,1036.4 1369.0,1036.2 1368.0,1036.0 1367.0,1035.8 1366.0,1035.6 1365.0,1035.4 1364.0,1035.2 1363.0,1034.9 1362.0,1034.7 1361.0,1034.5 1360.0,1034.3 1359.0,1034.1 1358.0,1033.9 1357.0,1033.6 1356.0,1033.4 1355.5,1033.3ZM1396.4,1031.9 1397.0,1032.0 1398.0,1032.2 1399.0,1032.4 1400.0,1032.6 1401.0,1032.8 1402.0,1033.0 1402.0,1043.0 1401.0,1042.8 1400.0,1042.6 1399.0,1042.4 1398.0,1042.2 1397.0,1042.0 1396.4,1041.9Z" fill="#a000b0" stroke="none"/>
</g>
<rect x="210.3" y="76.9" width="1195.2" height="1089.8999999999999" fill="none" stroke="#000" stroke-width="5.8"/>
<line x1="210.3" y1="121.0" x2="227" y2="121.0" stroke="#000" stroke-width="2.2"/>
<line x1="210.3" y1="164.6" x2="227" y2="164.6" stroke="#000" stroke-width="2.2"/>
<line x1="210.3" y1="208.3" x2="227" y2="208.3" stroke="#000" stroke-width="2.2"/>
<line x1="210.3" y1="251.9" x2="227" y2="251.9" stroke="#000" stroke-width="2.2"/>
<line x1="210.3" y1="295.6" x2="239" y2="295.6" stroke="#000" stroke-width="6"/>
<line x1="210.3" y1="339.3" x2="227" y2="339.3" stroke="#000" stroke-width="2.2"/>
<line x1="210.3" y1="382.9" x2="227" y2="382.9" stroke="#000" stroke-width="2.2"/>
<line x1="210.3" y1="426.6" x2="227" y2="426.6" stroke="#000" stroke-width="2.2"/>
<line x1="210.3" y1="470.2" x2="227" y2="470.2" stroke="#000" stroke-width="2.2"/>
<line x1="210.3" y1="513.9" x2="239" y2="513.9" stroke="#000" stroke-width="6"/>
<line x1="210.3" y1="557.6" x2="227" y2="557.6" stroke="#000" stroke-width="2.2"/>
<line x1="210.3" y1="601.2" x2="227" y2="601.2" stroke="#000" stroke-width="2.2"/>
<line x1="210.3" y1="644.9" x2="227" y2="644.9" stroke="#000" stroke-width="2.2"/>
<line x1="210.3" y1="688.5" x2="227" y2="688.5" stroke="#000" stroke-width="2.2"/>
<line x1="210.3" y1="732.2" x2="239" y2="732.2" stroke="#000" stroke-width="6"/>
<line x1="210.3" y1="775.9" x2="227" y2="775.9" stroke="#000" stroke-width="2.2"/>
<line x1="210.3" y1="819.5" x2="227" y2="819.5" stroke="#000" stroke-width="2.2"/>
<line x1="210.3" y1="863.2" x2="227" y2="863.2" stroke="#000" stroke-width="2.2"/>
<line x1="210.3" y1="906.8" x2="227" y2="906.8" stroke="#000" stroke-width="2.2"/>
<line x1="210.3" y1="950.5" x2="239" y2="950.5" stroke="#000" stroke-width="6"/>
<line x1="210.3" y1="994.2" x2="227" y2="994.2" stroke="#000" stroke-width="2.2"/>
<line x1="210.3" y1="1037.8" x2="227" y2="1037.8" stroke="#000" stroke-width="2.2"/>
<line x1="210.3" y1="1081.5" x2="227" y2="1081.5" stroke="#000" stroke-width="2.2"/>
<line x1="210.3" y1="1125.1" x2="227" y2="1125.1" stroke="#000" stroke-width="2.2"/>
<line x1="210.3" y1="1167.0" x2="210.3" y2="1140" stroke="#000" stroke-width="6"/>
<line x1="244.4" y1="1167.0" x2="244.4" y2="1151.7" stroke="#000" stroke-width="2.2"/>
<line x1="278.6" y1="1167.0" x2="278.6" y2="1151.7" stroke="#000" stroke-width="2.2"/>
<line x1="312.7" y1="1167.0" x2="312.7" y2="1151.7" stroke="#000" stroke-width="2.2"/>
<line x1="346.9" y1="1167.0" x2="346.9" y2="1151.7" stroke="#000" stroke-width="2.2"/>
<line x1="381.0" y1="1167.0" x2="381.0" y2="1140" stroke="#000" stroke-width="6"/>
<line x1="415.2" y1="1167.0" x2="415.2" y2="1151.7" stroke="#000" stroke-width="2.2"/>
<line x1="449.3" y1="1167.0" x2="449.3" y2="1151.7" stroke="#000" stroke-width="2.2"/>
<line x1="483.5" y1="1167.0" x2="483.5" y2="1151.7" stroke="#000" stroke-width="2.2"/>
<line x1="517.6" y1="1167.0" x2="517.6" y2="1151.7" stroke="#000" stroke-width="2.2"/>
<line x1="551.8" y1="1167.0" x2="551.8" y2="1140" stroke="#000" stroke-width="6"/>
<line x1="585.9" y1="1167.0" x2="585.9" y2="1151.7" stroke="#000" stroke-width="2.2"/>
<line x1="620.1" y1="1167.0" x2="620.1" y2="1151.7" stroke="#000" stroke-width="2.2"/>
<line x1="654.2" y1="1167.0" x2="654.2" y2="1151.7" stroke="#000" stroke-width="2.2"/>
<line x1="688.4" y1="1167.0" x2="688.4" y2="1151.7" stroke="#000" stroke-width="2.2"/>
<line x1="722.5" y1="1167.0" x2="722.5" y2="1140" stroke="#000" stroke-width="6"/>
<line x1="756.7" y1="1167.0" x2="756.7" y2="1151.7" stroke="#000" stroke-width="2.2"/>
<line x1="790.8" y1="1167.0" x2="790.8" y2="1151.7" stroke="#000" stroke-width="2.2"/>
<line x1="825.0" y1="1167.0" x2="825.0" y2="1151.7" stroke="#000" stroke-width="2.2"/>
<line x1="859.1" y1="1167.0" x2="859.1" y2="1151.7" stroke="#000" stroke-width="2.2"/>
<line x1="893.3" y1="1167.0" x2="893.3" y2="1140" stroke="#000" stroke-width="6"/>
<line x1="927.4" y1="1167.0" x2="927.4" y2="1151.7" stroke="#000" stroke-width="2.2"/>
<line x1="961.6" y1="1167.0" x2="961.6" y2="1151.7" stroke="#000" stroke-width="2.2"/>
<line x1="995.7" y1="1167.0" x2="995.7" y2="1151.7" stroke="#000" stroke-width="2.2"/>
<line x1="1029.9" y1="1167.0" x2="1029.9" y2="1151.7" stroke="#000" stroke-width="2.2"/>
<line x1="1064.0" y1="1167.0" x2="1064.0" y2="1140" stroke="#000" stroke-width="6"/>
<line x1="1098.2" y1="1167.0" x2="1098.2" y2="1151.7" stroke="#000" stroke-width="2.2"/>
<line x1="1132.3" y1="1167.0" x2="1132.3" y2="1151.7" stroke="#000" stroke-width="2.2"/>
<line x1="1166.5" y1="1167.0" x2="1166.5" y2="1151.7" stroke="#000" stroke-width="2.2"/>
<line x1="1200.6" y1="1167.0" x2="1200.6" y2="1151.7" stroke="#000" stroke-width="2.2"/>
<line x1="1234.8" y1="1167.0" x2="1234.8" y2="1140" stroke="#000" stroke-width="6"/>
<line x1="1268.9" y1="1167.0" x2="1268.9" y2="1151.7" stroke="#000" stroke-width="2.2"/>
<line x1="1303.1" y1="1167.0" x2="1303.1" y2="1151.7" stroke="#000" stroke-width="2.2"/>
<line x1="1337.2" y1="1167.0" x2="1337.2" y2="1151.7" stroke="#000" stroke-width="2.2"/>
<line x1="1371.4" y1="1167.0" x2="1371.4" y2="1151.7" stroke="#000" stroke-width="2.2"/>
<line x1="1405.5" y1="1167.0" x2="1405.5" y2="1140" stroke="#000" stroke-width="6"/>
<text transform="translate(186,98.9) scale(0.97,1)" x="0" y="0" style="font-family:'Liberation Serif',serif;font-weight:bold" font-size="66" text-anchor="end">1.6</text>
<text transform="translate(186,317.2) scale(0.97,1)" x="0" y="0" style="font-family:'Liberation Serif',serif;font-weight:bold" font-size="66" text-anchor="end">1.4</text>
<text transform="translate(186,535.5) scale(0.97,1)" x="0" y="0" style="font-family:'Liberation Serif',serif;font-weight:bold" font-size="66" text-anchor="end">1.2</text>
<text transform="translate(186,753.8) scale(0.97,1)" x="0" y="0" style="font-family:'Liberation Serif',serif;font-weight:bold" font-size="66" text-anchor="end">1</text>
<text transform="translate(186,972.1) scale(0.97,1)" x="0" y="0" style="font-family:'Liberation Serif',serif;font-weight:bold" font-size="66" text-anchor="end">0.8</text>
<text transform="translate(186,1190.4) scale(0.97,1)" x="0" y="0" style="font-family:'Liberation Serif',serif;font-weight:bold" font-size="66" text-anchor="end">0.6</text>
<text transform="translate(210.3,1240) scale(0.97,1)" x="0" y="0" style="font-family:'Liberation Serif',serif;font-weight:bold" font-size="66" text-anchor="middle">0</text>
<text transform="translate(381.0,1240) scale(0.97,1)" x="0" y="0" style="font-family:'Liberation Serif',serif;font-weight:bold" font-size="66" text-anchor="middle">0.05</text>
<text transform="translate(551.8,1240) scale(0.97,1)" x="0" y="0" style="font-family:'Liberation Serif',serif;font-weight:bold" font-size="66" text-anchor="middle">0.1</text>
<text transform="translate(722.5,1240) scale(0.97,1)" x="0" y="0" style="font-family:'Liberation Serif',serif;font-weight:bold" font-size="66" text-anchor="middle">0.15</text>
<text transform="translate(893.3,1240) scale(0.97,1)" x="0" y="0" style="font-family:'Liberation Serif',serif;font-weight:bold" font-size="66" text-anchor="middle">0.2</text>
<text transform="translate(1064.0,1240) scale(0.97,1)" x="0" y="0" style="font-family:'Liberation Serif',serif;font-weight:bold" font-size="66" text-anchor="middle">0.25</text>
<text transform="translate(1234.8,1240) scale(0.97,1)" x="0" y="0" style="font-family:'Liberation Serif',serif;font-weight:bold" font-size="66" text-anchor="middle">0.3</text>
<text transform="translate(1405.5,1240) scale(0.97,1)" x="0" y="0" style="font-family:'Liberation Serif',serif;font-weight:bold" font-size="66" text-anchor="middle">0.35</text>
<text transform="translate(806.5,1311) scale(1.09,1)" x="0" y="0" style="font-family:'Liberation Serif',serif" font-size="65" text-anchor="middle">&#937;</text>
<g transform="translate(67.7,711) rotate(-90)"><text x="0" y="0" style="font-family:'Liberation Sans',sans-serif;font-weight:bold" font-size="64">c<tspan font-size="39.5" dx="1.5" dy="19">r, mode</tspan></text></g>
<rect x="270.2" y="132" width="642.4" height="216.7" fill="#fff" stroke="#000" stroke-width="1.8"/>
<line x1="287.3" y1="166.5" x2="469.3" y2="166.5" stroke="#d40000" stroke-width="10"/>
<line x1="287.3" y1="216.1" x2="469.3" y2="216.1" stroke="#3030ff" stroke-width="10" stroke-dasharray="24 9.4 6 9.4"/>
<line x1="287.3" y1="267.1" x2="469.3" y2="267.1" stroke="#a000b0" stroke-width="10" stroke-dasharray="36 12.5"/>
<line x1="287.3" y1="315.5" x2="469.3" y2="315.5" stroke="#000060" stroke-width="10"/>
<text transform="translate(511.5,178.4) scale(1,1.045)" x="0" y="0" style="font-family:'Liberation Sans',sans-serif;font-weight:bold" font-size="42.3">Mode No.1, nonslip</text>
<text transform="translate(511.5,228.6) scale(1,1.045)" x="0" y="0" style="font-family:'Liberation Sans',sans-serif;font-weight:bold" font-size="42.3">Mode No.2, nonslip</text>
<text transform="translate(511.5,279.6) scale(1,1.045)" x="0" y="0" style="font-family:'Liberation Sans',sans-serif;font-weight:bold" font-size="42.3">Mode No.1, slip</text>
<text transform="translate(511.5,328.3) scale(1,1.045)" x="0" y="0" style="font-family:'Liberation Sans',sans-serif;font-weight:bold" font-size="42.3">Mode No.2, slip</text>
<text transform="translate(1186.5,456.2) scale(1,1.06)" x="0" y="0" style="font-family:'Liberation Sans',sans-serif;font-weight:bold" font-size="42.5" xml:space="preserve" textLength="185" lengthAdjust="spacing">1 + 1 / Ma</text>
<text x="1371.5" y="467" style="font-family:'Liberation Sans',sans-serif;font-weight:bold" font-size="24">e</text>
<text transform="translate(1191.5,866.1) scale(1,1.06)" x="0" y="0" style="font-family:'Liberation Sans',sans-serif;font-weight:bold" font-size="42.5" xml:space="preserve" textLength="173" lengthAdjust="spacing">1 - 1 / Ma</text>
<text x="1365" y="878.5" style="font-family:'Liberation Sans',sans-serif;font-weight:bold" font-size="24">e</text>
</svg>
</body></html>
